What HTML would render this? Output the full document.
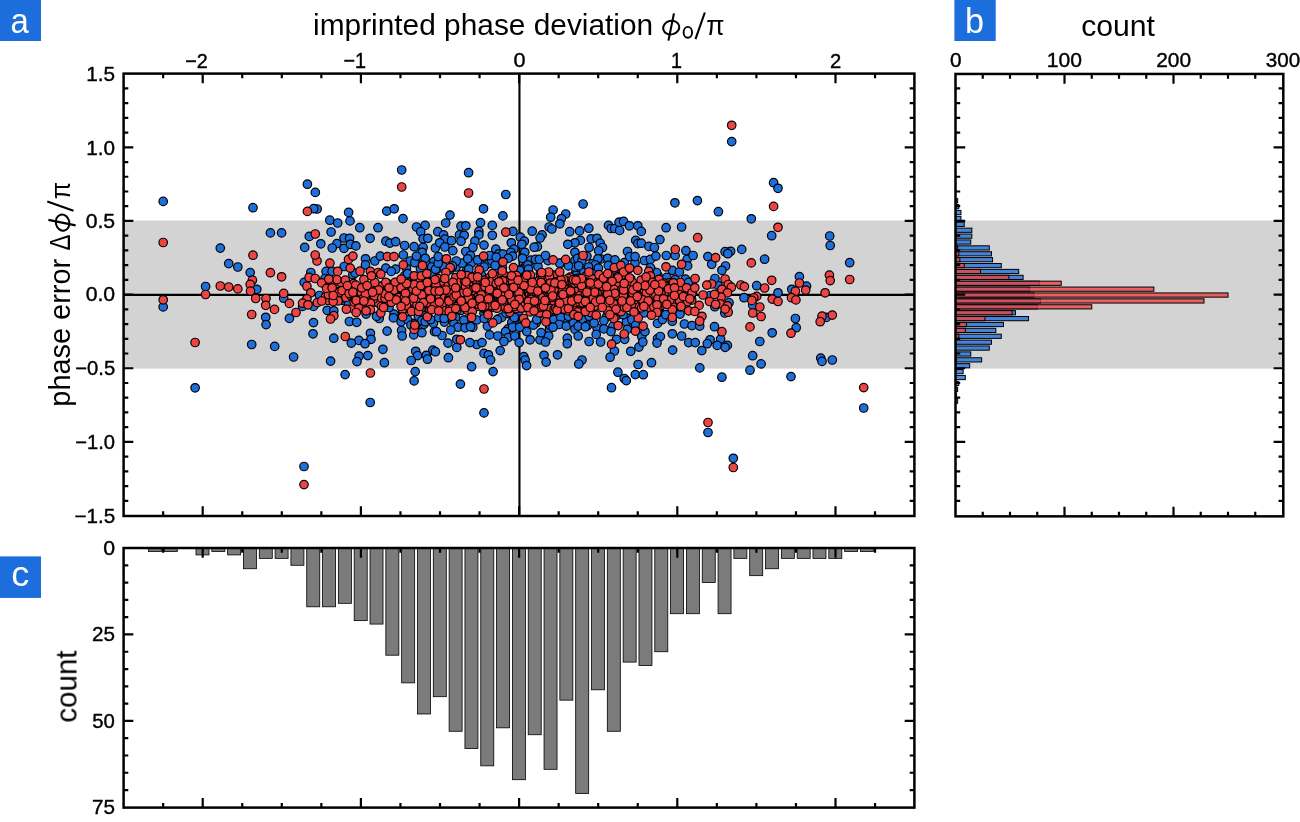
<!DOCTYPE html>
<html><head><meta charset="utf-8"><title>figure</title>
<style>
html,body{margin:0;padding:0;background:#fff;}
svg{display:block;font-family:"Liberation Sans",sans-serif;}
</style></head>
<body>
<svg width="1300" height="822" viewBox="0 0 1300 822">
<rect x="0" y="0" width="1300" height="822" fill="#fff"/>
<rect x="123.6" y="220.5" width="790.80" height="148.10" fill="#d3d3d3"/>
<rect x="955.5" y="220.5" width="327.80" height="148.10" fill="#d3d3d3"/>
<line x1="123.6" x2="914.4" y1="294.85" y2="294.85" stroke="#000" stroke-width="2.1"/>
<line x1="519.45" x2="519.45" y1="73.6" y2="516.0" stroke="#000" stroke-width="2.1"/>
<g fill="#1f6fdb" stroke="#000" stroke-width="1.2">
<circle cx="406.4" cy="268.1" r="4.25"/><circle cx="406.3" cy="280.5" r="4.25"/><circle cx="401.4" cy="315.8" r="4.25"/><circle cx="404.8" cy="275.6" r="4.25"/><circle cx="406.6" cy="292.1" r="4.25"/><circle cx="413.1" cy="323.4" r="4.25"/><circle cx="401.8" cy="318.5" r="4.25"/><circle cx="415.8" cy="280.7" r="4.25"/><circle cx="410.3" cy="261.0" r="4.25"/><circle cx="401.5" cy="299.7" r="4.25"/><circle cx="403.0" cy="304.0" r="4.25"/><circle cx="415.1" cy="327.2" r="4.25"/><circle cx="403.3" cy="301.2" r="4.25"/><circle cx="425.0" cy="288.2" r="4.25"/><circle cx="424.0" cy="324.3" r="4.25"/><circle cx="423.8" cy="291.1" r="4.25"/><circle cx="418.4" cy="316.3" r="4.25"/><circle cx="428.7" cy="281.3" r="4.25"/><circle cx="419.6" cy="285.5" r="4.25"/><circle cx="422.0" cy="263.7" r="4.25"/><circle cx="418.0" cy="305.9" r="4.25"/><circle cx="422.6" cy="311.9" r="4.25"/><circle cx="424.3" cy="266.3" r="4.25"/><circle cx="428.1" cy="296.2" r="4.25"/><circle cx="420.5" cy="268.8" r="4.25"/><circle cx="429.8" cy="301.6" r="4.25"/><circle cx="426.1" cy="262.0" r="4.25"/><circle cx="428.3" cy="291.5" r="4.25"/><circle cx="437.6" cy="268.9" r="4.25"/><circle cx="433.4" cy="323.3" r="4.25"/><circle cx="434.1" cy="272.8" r="4.25"/><circle cx="443.2" cy="266.6" r="4.25"/><circle cx="443.7" cy="308.7" r="4.25"/><circle cx="446.5" cy="318.6" r="4.25"/><circle cx="442.2" cy="308.8" r="4.25"/><circle cx="442.4" cy="291.8" r="4.25"/><circle cx="437.7" cy="291.6" r="4.25"/><circle cx="436.0" cy="269.4" r="4.25"/><circle cx="444.4" cy="322.1" r="4.25"/><circle cx="450.2" cy="298.4" r="4.25"/><circle cx="461.2" cy="310.3" r="4.25"/><circle cx="454.5" cy="305.6" r="4.25"/><circle cx="455.6" cy="317.4" r="4.25"/><circle cx="461.5" cy="298.9" r="4.25"/><circle cx="460.7" cy="297.5" r="4.25"/><circle cx="457.3" cy="295.1" r="4.25"/><circle cx="450.0" cy="269.7" r="4.25"/><circle cx="449.2" cy="292.1" r="4.25"/><circle cx="450.2" cy="311.5" r="4.25"/><circle cx="454.0" cy="323.7" r="4.25"/><circle cx="457.5" cy="307.5" r="4.25"/><circle cx="452.2" cy="309.8" r="4.25"/><circle cx="451.6" cy="296.3" r="4.25"/><circle cx="456.2" cy="267.0" r="4.25"/><circle cx="459.0" cy="288.6" r="4.25"/><circle cx="460.4" cy="282.7" r="4.25"/><circle cx="448.4" cy="294.2" r="4.25"/><circle cx="451.9" cy="267.6" r="4.25"/><circle cx="467.8" cy="266.7" r="4.25"/><circle cx="470.9" cy="293.8" r="4.25"/><circle cx="467.9" cy="274.9" r="4.25"/><circle cx="466.7" cy="270.6" r="4.25"/><circle cx="466.6" cy="273.5" r="4.25"/><circle cx="471.3" cy="263.2" r="4.25"/><circle cx="478.8" cy="300.3" r="4.25"/><circle cx="476.7" cy="320.0" r="4.25"/><circle cx="475.1" cy="294.6" r="4.25"/><circle cx="465.7" cy="304.3" r="4.25"/><circle cx="472.8" cy="327.4" r="4.25"/><circle cx="478.9" cy="287.9" r="4.25"/><circle cx="472.1" cy="303.3" r="4.25"/><circle cx="477.7" cy="275.9" r="4.25"/><circle cx="472.3" cy="276.8" r="4.25"/><circle cx="478.9" cy="294.4" r="4.25"/><circle cx="465.7" cy="290.0" r="4.25"/><circle cx="468.2" cy="326.1" r="4.25"/><circle cx="465.5" cy="320.2" r="4.25"/><circle cx="471.0" cy="288.4" r="4.25"/><circle cx="468.8" cy="294.9" r="4.25"/><circle cx="487.7" cy="282.3" r="4.25"/><circle cx="479.6" cy="305.4" r="4.25"/><circle cx="488.6" cy="263.6" r="4.25"/><circle cx="488.8" cy="307.9" r="4.25"/><circle cx="484.4" cy="292.0" r="4.25"/><circle cx="484.1" cy="301.2" r="4.25"/><circle cx="480.6" cy="284.3" r="4.25"/><circle cx="484.0" cy="313.2" r="4.25"/><circle cx="481.5" cy="275.3" r="4.25"/><circle cx="490.0" cy="291.1" r="4.25"/><circle cx="491.8" cy="260.6" r="4.25"/><circle cx="483.5" cy="308.3" r="4.25"/><circle cx="482.1" cy="291.4" r="4.25"/><circle cx="489.6" cy="299.2" r="4.25"/><circle cx="481.3" cy="264.9" r="4.25"/><circle cx="498.0" cy="319.2" r="4.25"/><circle cx="509.7" cy="296.6" r="4.25"/><circle cx="496.8" cy="269.7" r="4.25"/><circle cx="509.7" cy="294.2" r="4.25"/><circle cx="509.1" cy="304.6" r="4.25"/><circle cx="501.3" cy="300.1" r="4.25"/><circle cx="499.0" cy="300.0" r="4.25"/><circle cx="508.1" cy="313.7" r="4.25"/><circle cx="508.0" cy="328.9" r="4.25"/><circle cx="496.1" cy="294.1" r="4.25"/><circle cx="511.0" cy="313.6" r="4.25"/><circle cx="505.4" cy="291.3" r="4.25"/><circle cx="500.5" cy="284.3" r="4.25"/><circle cx="502.4" cy="267.7" r="4.25"/><circle cx="518.9" cy="279.7" r="4.25"/><circle cx="512.4" cy="285.0" r="4.25"/><circle cx="516.4" cy="287.7" r="4.25"/><circle cx="520.1" cy="305.1" r="4.25"/><circle cx="516.9" cy="320.6" r="4.25"/><circle cx="517.0" cy="315.7" r="4.25"/><circle cx="521.1" cy="277.3" r="4.25"/><circle cx="514.4" cy="274.0" r="4.25"/><circle cx="514.5" cy="321.9" r="4.25"/><circle cx="516.2" cy="296.7" r="4.25"/><circle cx="514.0" cy="318.2" r="4.25"/><circle cx="525.2" cy="266.5" r="4.25"/><circle cx="511.9" cy="301.3" r="4.25"/><circle cx="511.3" cy="276.3" r="4.25"/><circle cx="520.6" cy="305.0" r="4.25"/><circle cx="522.5" cy="305.3" r="4.25"/><circle cx="518.7" cy="296.2" r="4.25"/><circle cx="525.9" cy="298.6" r="4.25"/><circle cx="524.9" cy="328.1" r="4.25"/><circle cx="517.0" cy="283.8" r="4.25"/><circle cx="522.6" cy="269.1" r="4.25"/><circle cx="517.1" cy="281.6" r="4.25"/><circle cx="519.0" cy="310.9" r="4.25"/><circle cx="511.8" cy="322.5" r="4.25"/><circle cx="534.0" cy="287.9" r="4.25"/><circle cx="539.7" cy="313.5" r="4.25"/><circle cx="540.3" cy="273.4" r="4.25"/><circle cx="531.7" cy="282.5" r="4.25"/><circle cx="528.5" cy="287.7" r="4.25"/><circle cx="528.5" cy="306.1" r="4.25"/><circle cx="542.0" cy="283.1" r="4.25"/><circle cx="528.5" cy="306.6" r="4.25"/><circle cx="532.3" cy="296.7" r="4.25"/><circle cx="529.6" cy="284.6" r="4.25"/><circle cx="537.9" cy="266.5" r="4.25"/><circle cx="536.2" cy="322.8" r="4.25"/><circle cx="541.6" cy="289.3" r="4.25"/><circle cx="530.9" cy="260.2" r="4.25"/><circle cx="549.5" cy="284.5" r="4.25"/><circle cx="548.6" cy="304.1" r="4.25"/><circle cx="557.8" cy="277.8" r="4.25"/><circle cx="553.4" cy="291.9" r="4.25"/><circle cx="556.9" cy="309.1" r="4.25"/><circle cx="549.5" cy="328.9" r="4.25"/><circle cx="545.4" cy="285.4" r="4.25"/><circle cx="550.0" cy="325.2" r="4.25"/><circle cx="554.8" cy="310.8" r="4.25"/><circle cx="548.6" cy="276.2" r="4.25"/><circle cx="557.0" cy="310.0" r="4.25"/><circle cx="548.0" cy="260.6" r="4.25"/><circle cx="549.5" cy="317.7" r="4.25"/><circle cx="551.0" cy="320.0" r="4.25"/><circle cx="554.1" cy="293.2" r="4.25"/><circle cx="568.5" cy="308.1" r="4.25"/><circle cx="573.0" cy="308.6" r="4.25"/><circle cx="565.9" cy="318.5" r="4.25"/><circle cx="564.9" cy="305.0" r="4.25"/><circle cx="560.3" cy="263.3" r="4.25"/><circle cx="572.5" cy="293.4" r="4.25"/><circle cx="570.6" cy="291.5" r="4.25"/><circle cx="562.6" cy="314.0" r="4.25"/><circle cx="572.2" cy="279.8" r="4.25"/><circle cx="573.0" cy="305.4" r="4.25"/><circle cx="587.1" cy="325.7" r="4.25"/><circle cx="575.3" cy="273.8" r="4.25"/><circle cx="582.1" cy="296.8" r="4.25"/><circle cx="580.2" cy="303.0" r="4.25"/><circle cx="580.2" cy="296.5" r="4.25"/><circle cx="589.4" cy="280.4" r="4.25"/><circle cx="576.8" cy="304.1" r="4.25"/><circle cx="584.9" cy="274.3" r="4.25"/><circle cx="578.5" cy="299.4" r="4.25"/><circle cx="586.2" cy="310.5" r="4.25"/><circle cx="580.9" cy="269.6" r="4.25"/><circle cx="585.0" cy="272.7" r="4.25"/><circle cx="589.4" cy="318.5" r="4.25"/><circle cx="579.8" cy="288.8" r="4.25"/><circle cx="578.1" cy="302.6" r="4.25"/><circle cx="583.7" cy="272.5" r="4.25"/><circle cx="582.9" cy="319.8" r="4.25"/><circle cx="587.6" cy="325.2" r="4.25"/><circle cx="584.3" cy="307.7" r="4.25"/><circle cx="590.0" cy="293.9" r="4.25"/><circle cx="575.6" cy="297.0" r="4.25"/><circle cx="576.0" cy="275.3" r="4.25"/><circle cx="592.0" cy="298.5" r="4.25"/><circle cx="593.0" cy="285.0" r="4.25"/><circle cx="592.6" cy="263.7" r="4.25"/><circle cx="595.5" cy="277.7" r="4.25"/><circle cx="595.9" cy="268.6" r="4.25"/><circle cx="600.7" cy="259.0" r="4.25"/><circle cx="592.5" cy="311.4" r="4.25"/><circle cx="604.1" cy="279.3" r="4.25"/><circle cx="597.1" cy="328.2" r="4.25"/><circle cx="592.6" cy="288.1" r="4.25"/><circle cx="594.7" cy="297.0" r="4.25"/><circle cx="595.6" cy="273.0" r="4.25"/><circle cx="615.9" cy="273.5" r="4.25"/><circle cx="613.8" cy="270.5" r="4.25"/><circle cx="611.7" cy="312.9" r="4.25"/><circle cx="611.7" cy="289.1" r="4.25"/><circle cx="611.9" cy="305.3" r="4.25"/><circle cx="618.8" cy="294.6" r="4.25"/><circle cx="613.7" cy="304.7" r="4.25"/><circle cx="610.5" cy="264.0" r="4.25"/><circle cx="609.2" cy="260.9" r="4.25"/><circle cx="608.1" cy="308.7" r="4.25"/><circle cx="621.8" cy="267.2" r="4.25"/><circle cx="617.8" cy="315.0" r="4.25"/><circle cx="615.0" cy="287.6" r="4.25"/><circle cx="621.2" cy="283.5" r="4.25"/><circle cx="612.9" cy="326.4" r="4.25"/><circle cx="606.7" cy="316.8" r="4.25"/><circle cx="621.5" cy="298.4" r="4.25"/><circle cx="607.7" cy="310.8" r="4.25"/><circle cx="624.2" cy="288.4" r="4.25"/><circle cx="630.5" cy="282.2" r="4.25"/><circle cx="633.2" cy="285.9" r="4.25"/><circle cx="635.0" cy="263.2" r="4.25"/><circle cx="628.3" cy="327.1" r="4.25"/><circle cx="630.7" cy="279.0" r="4.25"/><circle cx="628.6" cy="269.1" r="4.25"/><circle cx="623.4" cy="281.3" r="4.25"/><circle cx="627.2" cy="318.1" r="4.25"/><circle cx="637.7" cy="313.9" r="4.25"/><circle cx="637.6" cy="294.7" r="4.25"/><circle cx="649.2" cy="281.6" r="4.25"/><circle cx="647.1" cy="300.5" r="4.25"/><circle cx="649.3" cy="284.0" r="4.25"/><circle cx="648.4" cy="279.5" r="4.25"/><circle cx="651.5" cy="280.0" r="4.25"/><circle cx="651.2" cy="269.4" r="4.25"/><circle cx="639.6" cy="288.1" r="4.25"/><circle cx="649.8" cy="308.2" r="4.25"/><circle cx="641.4" cy="285.5" r="4.25"/><circle cx="647.9" cy="260.9" r="4.25"/><circle cx="641.6" cy="307.1" r="4.25"/><circle cx="659.4" cy="301.5" r="4.25"/><circle cx="659.9" cy="312.6" r="4.25"/><circle cx="658.9" cy="308.6" r="4.25"/><circle cx="658.0" cy="275.8" r="4.25"/><circle cx="163.2" cy="201.4" r="4.25"/><circle cx="253.0" cy="207.7" r="4.25"/><circle cx="307.4" cy="184.2" r="4.25"/><circle cx="315.3" cy="192.4" r="4.25"/><circle cx="317.2" cy="209.0" r="4.25"/><circle cx="313.7" cy="208.7" r="4.25"/><circle cx="270.4" cy="232.9" r="4.25"/><circle cx="281.6" cy="232.9" r="4.25"/><circle cx="309.3" cy="236.4" r="4.25"/><circle cx="320.8" cy="243.8" r="4.25"/><circle cx="304.7" cy="247.4" r="4.25"/><circle cx="220.3" cy="248.1" r="4.25"/><circle cx="228.7" cy="263.6" r="4.25"/><circle cx="237.8" cy="267.0" r="4.25"/><circle cx="250.2" cy="272.6" r="4.25"/><circle cx="205.6" cy="286.5" r="4.25"/><circle cx="256.8" cy="289.3" r="4.25"/><circle cx="163.2" cy="306.9" r="4.25"/><circle cx="265.7" cy="317.3" r="4.25"/><circle cx="266.1" cy="324.6" r="4.25"/><circle cx="283.7" cy="298.2" r="4.25"/><circle cx="289.4" cy="318.4" r="4.25"/><circle cx="251.7" cy="344.5" r="4.25"/><circle cx="274.7" cy="346.4" r="4.25"/><circle cx="293.6" cy="357.0" r="4.25"/><circle cx="195.1" cy="387.8" r="4.25"/><circle cx="304.0" cy="466.5" r="4.25"/><circle cx="370.2" cy="402.5" r="4.25"/><circle cx="484.0" cy="412.9" r="4.25"/><circle cx="401.7" cy="170.0" r="4.25"/><circle cx="468.6" cy="172.7" r="4.25"/><circle cx="505.8" cy="194.5" r="4.25"/><circle cx="348.6" cy="212.4" r="4.25"/><circle cx="350.0" cy="220.9" r="4.25"/><circle cx="329.8" cy="220.2" r="4.25"/><circle cx="337.7" cy="223.0" r="4.25"/><circle cx="386.7" cy="211.1" r="4.25"/><circle cx="394.2" cy="208.8" r="4.25"/><circle cx="403.0" cy="218.6" r="4.25"/><circle cx="450.0" cy="215.1" r="4.25"/><circle cx="445.7" cy="223.0" r="4.25"/><circle cx="483.5" cy="208.8" r="4.25"/><circle cx="480.5" cy="222.7" r="4.25"/><circle cx="502.9" cy="215.9" r="4.25"/><circle cx="492.3" cy="225.4" r="4.25"/><circle cx="492.3" cy="235.3" r="4.25"/><circle cx="512.9" cy="231.4" r="4.25"/><circle cx="359.8" cy="227.7" r="4.25"/><circle cx="378.0" cy="227.7" r="4.25"/><circle cx="370.1" cy="238.3" r="4.25"/><circle cx="331.1" cy="232.0" r="4.25"/><circle cx="416.5" cy="227.0" r="4.25"/><circle cx="425.1" cy="225.4" r="4.25"/><circle cx="420.7" cy="231.7" r="4.25"/><circle cx="437.8" cy="231.7" r="4.25"/><circle cx="443.6" cy="234.9" r="4.25"/><circle cx="444.9" cy="239.1" r="4.25"/><circle cx="451.5" cy="240.7" r="4.25"/><circle cx="461.0" cy="226.2" r="4.25"/><circle cx="465.8" cy="225.8" r="4.25"/><circle cx="459.5" cy="234.9" r="4.25"/><circle cx="464.2" cy="235.3" r="4.25"/><circle cx="461.0" cy="241.2" r="4.25"/><circle cx="478.9" cy="231.4" r="4.25"/><circle cx="478.9" cy="234.9" r="4.25"/><circle cx="474.9" cy="241.2" r="4.25"/><circle cx="484.0" cy="245.1" r="4.25"/><circle cx="472.9" cy="247.5" r="4.25"/><circle cx="344.0" cy="238.0" r="4.25"/><circle cx="349.6" cy="238.3" r="4.25"/><circle cx="336.9" cy="243.6" r="4.25"/><circle cx="332.2" cy="248.0" r="4.25"/><circle cx="344.0" cy="248.3" r="4.25"/><circle cx="350.4" cy="244.3" r="4.25"/><circle cx="355.9" cy="245.9" r="4.25"/><circle cx="385.9" cy="241.2" r="4.25"/><circle cx="389.9" cy="243.1" r="4.25"/><circle cx="395.7" cy="241.7" r="4.25"/><circle cx="404.6" cy="245.5" r="4.25"/><circle cx="414.1" cy="246.7" r="4.25"/><circle cx="423.1" cy="238.8" r="4.25"/><circle cx="427.8" cy="238.3" r="4.25"/><circle cx="423.1" cy="247.5" r="4.25"/><circle cx="422.0" cy="252.3" r="4.25"/><circle cx="435.4" cy="248.0" r="4.25"/><circle cx="439.7" cy="242.8" r="4.25"/><circle cx="444.9" cy="247.0" r="4.25"/><circle cx="452.8" cy="250.7" r="4.25"/><circle cx="465.8" cy="251.5" r="4.25"/><circle cx="470.5" cy="255.4" r="4.25"/><circle cx="495.8" cy="249.1" r="4.25"/><circle cx="499.0" cy="253.8" r="4.25"/><circle cx="502.9" cy="254.2" r="4.25"/><circle cx="511.3" cy="242.8" r="4.25"/><circle cx="514.0" cy="249.1" r="4.25"/><circle cx="510.8" cy="252.3" r="4.25"/><circle cx="583.1" cy="204.0" r="4.25"/><circle cx="553.1" cy="210.0" r="4.25"/><circle cx="550.7" cy="217.2" r="4.25"/><circle cx="565.7" cy="214.0" r="4.25"/><circle cx="561.4" cy="218.6" r="4.25"/><circle cx="559.8" cy="223.8" r="4.25"/><circle cx="674.9" cy="202.8" r="4.25"/><circle cx="697.4" cy="200.6" r="4.25"/><circle cx="532.2" cy="231.2" r="4.25"/><circle cx="549.1" cy="227.0" r="4.25"/><circle cx="551.9" cy="229.0" r="4.25"/><circle cx="542.1" cy="234.9" r="4.25"/><circle cx="540.1" cy="238.0" r="4.25"/><circle cx="520.3" cy="237.2" r="4.25"/><circle cx="524.3" cy="241.2" r="4.25"/><circle cx="521.9" cy="244.3" r="4.25"/><circle cx="524.8" cy="252.3" r="4.25"/><circle cx="569.7" cy="231.7" r="4.25"/><circle cx="579.6" cy="230.9" r="4.25"/><circle cx="588.8" cy="228.2" r="4.25"/><circle cx="591.2" cy="238.8" r="4.25"/><circle cx="580.4" cy="240.4" r="4.25"/><circle cx="574.9" cy="242.8" r="4.25"/><circle cx="567.8" cy="244.3" r="4.25"/><circle cx="597.0" cy="238.3" r="4.25"/><circle cx="600.2" cy="243.1" r="4.25"/><circle cx="602.5" cy="247.5" r="4.25"/><circle cx="598.6" cy="250.7" r="4.25"/><circle cx="589.1" cy="247.5" r="4.25"/><circle cx="574.9" cy="252.3" r="4.25"/><circle cx="537.4" cy="246.7" r="4.25"/><circle cx="534.2" cy="247.2" r="4.25"/><circle cx="608.5" cy="225.4" r="4.25"/><circle cx="611.2" cy="228.5" r="4.25"/><circle cx="614.7" cy="228.5" r="4.25"/><circle cx="619.6" cy="230.4" r="4.25"/><circle cx="619.1" cy="222.2" r="4.25"/><circle cx="623.6" cy="221.4" r="4.25"/><circle cx="629.4" cy="225.8" r="4.25"/><circle cx="637.8" cy="225.8" r="4.25"/><circle cx="641.3" cy="231.4" r="4.25"/><circle cx="635.7" cy="240.4" r="4.25"/><circle cx="637.8" cy="243.6" r="4.25"/><circle cx="641.3" cy="243.2" r="4.25"/><circle cx="648.9" cy="246.4" r="4.25"/><circle cx="654.4" cy="247.5" r="4.25"/><circle cx="659.9" cy="239.6" r="4.25"/><circle cx="666.1" cy="227.7" r="4.25"/><circle cx="681.6" cy="227.0" r="4.25"/><circle cx="685.9" cy="250.7" r="4.25"/><circle cx="627.5" cy="251.5" r="4.25"/><circle cx="731.7" cy="141.6" r="4.25"/><circle cx="773.6" cy="182.7" r="4.25"/><circle cx="778.0" cy="188.3" r="4.25"/><circle cx="718.4" cy="211.7" r="4.25"/><circle cx="751.3" cy="218.8" r="4.25"/><circle cx="771.7" cy="235.7" r="4.25"/><circle cx="829.7" cy="236.0" r="4.25"/><circle cx="830.2" cy="245.5" r="4.25"/><circle cx="849.7" cy="262.7" r="4.25"/><circle cx="741.7" cy="249.4" r="4.25"/><circle cx="730.6" cy="251.3" r="4.25"/><circle cx="725.1" cy="251.7" r="4.25"/><circle cx="727.8" cy="253.7" r="4.25"/><circle cx="764.6" cy="259.2" r="4.25"/><circle cx="725.5" cy="266.0" r="4.25"/><circle cx="721.9" cy="270.3" r="4.25"/><circle cx="799.4" cy="276.6" r="4.25"/><circle cx="806.5" cy="286.1" r="4.25"/><circle cx="791.8" cy="289.3" r="4.25"/><circle cx="756.7" cy="285.7" r="4.25"/><circle cx="778.0" cy="292.8" r="4.25"/><circle cx="718.0" cy="285.3" r="4.25"/><circle cx="744.0" cy="297.7" r="4.25"/><circle cx="752.7" cy="305.1" r="4.25"/><circle cx="729.0" cy="302.7" r="4.25"/><circle cx="714.8" cy="306.7" r="4.25"/><circle cx="724.8" cy="313.0" r="4.25"/><circle cx="795.4" cy="318.5" r="4.25"/><circle cx="796.2" cy="327.7" r="4.25"/><circle cx="772.2" cy="332.8" r="4.25"/><circle cx="759.8" cy="341.5" r="4.25"/><circle cx="826.3" cy="317.4" r="4.25"/><circle cx="720.6" cy="339.1" r="4.25"/><circle cx="717.2" cy="345.4" r="4.25"/><circle cx="727.4" cy="345.4" r="4.25"/><circle cx="725.1" cy="347.3" r="4.25"/><circle cx="752.7" cy="355.7" r="4.25"/><circle cx="820.7" cy="358.1" r="4.25"/><circle cx="832.3" cy="360.0" r="4.25"/><circle cx="761.1" cy="363.9" r="4.25"/><circle cx="750.0" cy="370.2" r="4.25"/><circle cx="721.9" cy="377.2" r="4.25"/><circle cx="791.0" cy="376.6" r="4.25"/><circle cx="822.0" cy="361.4" r="4.25"/><circle cx="863.7" cy="408.0" r="4.25"/><circle cx="733.3" cy="458.3" r="4.25"/><circle cx="456.8" cy="347.4" r="4.25"/><circle cx="476.8" cy="344.5" r="4.25"/><circle cx="500.2" cy="350.6" r="4.25"/><circle cx="484.0" cy="353.4" r="4.25"/><circle cx="488.4" cy="354.8" r="4.25"/><circle cx="490.6" cy="360.0" r="4.25"/><circle cx="382.9" cy="349.3" r="4.25"/><circle cx="384.4" cy="362.7" r="4.25"/><circle cx="359.1" cy="356.1" r="4.25"/><circle cx="367.8" cy="355.6" r="4.25"/><circle cx="357.0" cy="361.6" r="4.25"/><circle cx="330.6" cy="361.1" r="4.25"/><circle cx="415.7" cy="351.3" r="4.25"/><circle cx="417.6" cy="355.6" r="4.25"/><circle cx="411.2" cy="360.5" r="4.25"/><circle cx="426.3" cy="355.3" r="4.25"/><circle cx="427.5" cy="359.2" r="4.25"/><circle cx="432.9" cy="350.2" r="4.25"/><circle cx="435.4" cy="351.7" r="4.25"/><circle cx="448.4" cy="357.7" r="4.25"/><circle cx="471.6" cy="366.7" r="4.25"/><circle cx="493.1" cy="371.6" r="4.25"/><circle cx="345.1" cy="374.6" r="4.25"/><circle cx="415.2" cy="371.6" r="4.25"/><circle cx="414.1" cy="380.9" r="4.25"/><circle cx="460.4" cy="384.1" r="4.25"/><circle cx="614.4" cy="351.0" r="4.25"/><circle cx="610.1" cy="357.2" r="4.25"/><circle cx="630.7" cy="351.3" r="4.25"/><circle cx="638.9" cy="347.1" r="4.25"/><circle cx="672.6" cy="350.1" r="4.25"/><circle cx="701.8" cy="350.6" r="4.25"/><circle cx="523.8" cy="356.6" r="4.25"/><circle cx="525.1" cy="360.0" r="4.25"/><circle cx="526.6" cy="365.6" r="4.25"/><circle cx="544.0" cy="355.3" r="4.25"/><circle cx="546.1" cy="362.1" r="4.25"/><circle cx="557.5" cy="354.8" r="4.25"/><circle cx="582.0" cy="360.0" r="4.25"/><circle cx="578.8" cy="364.0" r="4.25"/><circle cx="638.1" cy="364.5" r="4.25"/><circle cx="651.5" cy="362.7" r="4.25"/><circle cx="699.8" cy="367.9" r="4.25"/><circle cx="617.9" cy="372.2" r="4.25"/><circle cx="624.2" cy="378.5" r="4.25"/><circle cx="626.3" cy="380.6" r="4.25"/><circle cx="635.3" cy="374.6" r="4.25"/><circle cx="643.3" cy="374.7" r="4.25"/><circle cx="611.5" cy="387.7" r="4.25"/><circle cx="708.0" cy="432.5" r="4.25"/><circle cx="310.8" cy="272.5" r="4.25"/><circle cx="326.1" cy="271.4" r="4.25"/><circle cx="344.2" cy="266.5" r="4.25"/><circle cx="332.1" cy="271.4" r="4.25"/><circle cx="365.5" cy="258.8" r="4.25"/><circle cx="374.8" cy="261.0" r="4.25"/><circle cx="365.5" cy="264.9" r="4.25"/><circle cx="380.3" cy="256.1" r="4.25"/><circle cx="385.8" cy="268.1" r="4.25"/><circle cx="395.6" cy="269.2" r="4.25"/><circle cx="391.2" cy="271.4" r="4.25"/><circle cx="403.3" cy="255.0" r="4.25"/><circle cx="414.8" cy="262.7" r="4.25"/><circle cx="416.4" cy="256.1" r="4.25"/><circle cx="425.2" cy="258.3" r="4.25"/><circle cx="433.9" cy="261.6" r="4.25"/><circle cx="431.7" cy="267.0" r="4.25"/><circle cx="304.2" cy="282.4" r="4.25"/><circle cx="325.0" cy="278.5" r="4.25"/><circle cx="352.9" cy="274.7" r="4.25"/><circle cx="355.1" cy="273.1" r="4.25"/><circle cx="342.0" cy="300.4" r="4.25"/><circle cx="348.5" cy="303.2" r="4.25"/><circle cx="327.2" cy="310.3" r="4.25"/><circle cx="333.8" cy="310.8" r="4.25"/><circle cx="313.5" cy="322.6" r="4.25"/><circle cx="313.0" cy="333.8" r="4.25"/><circle cx="349.4" cy="321.5" r="4.25"/><circle cx="356.7" cy="322.3" r="4.25"/><circle cx="333.8" cy="338.2" r="4.25"/><circle cx="370.4" cy="333.3" r="4.25"/><circle cx="371.0" cy="339.3" r="4.25"/><circle cx="358.9" cy="340.4" r="4.25"/><circle cx="351.3" cy="343.1" r="4.25"/><circle cx="365.0" cy="343.7" r="4.25"/><circle cx="387.1" cy="331.1" r="4.25"/><circle cx="401.6" cy="330.5" r="4.25"/><circle cx="402.2" cy="336.0" r="4.25"/><circle cx="413.7" cy="334.9" r="4.25"/><circle cx="421.9" cy="332.7" r="4.25"/><circle cx="434.5" cy="331.6" r="4.25"/><circle cx="366.1" cy="314.1" r="4.25"/><circle cx="379.2" cy="318.5" r="4.25"/><circle cx="376.5" cy="316.3" r="4.25"/><circle cx="394.0" cy="314.1" r="4.25"/><circle cx="393.4" cy="317.9" r="4.25"/><circle cx="401.1" cy="321.8" r="4.25"/><circle cx="407.6" cy="319.6" r="4.25"/><circle cx="410.9" cy="325.1" r="4.25"/><circle cx="421.9" cy="320.7" r="4.25"/><circle cx="425.2" cy="321.8" r="4.25"/><circle cx="430.6" cy="319.6" r="4.25"/><circle cx="389.0" cy="307.5" r="4.25"/><circle cx="412.0" cy="305.4" r="4.25"/><circle cx="405.5" cy="308.6" r="4.25"/><circle cx="426.3" cy="307.5" r="4.25"/><circle cx="302.6" cy="306.4" r="4.25"/><circle cx="313.5" cy="306.4" r="4.25"/><circle cx="319.5" cy="295.5" r="4.25"/><circle cx="372.6" cy="298.8" r="4.25"/><circle cx="379.2" cy="299.9" r="4.25"/><circle cx="431.7" cy="273.6" r="4.25"/><circle cx="435.6" cy="269.2" r="4.25"/><circle cx="407.6" cy="273.6" r="4.25"/><circle cx="438.2" cy="263.2" r="4.25"/><circle cx="462.3" cy="263.2" r="4.25"/><circle cx="456.2" cy="261.0" r="4.25"/><circle cx="477.6" cy="259.9" r="4.25"/><circle cx="467.7" cy="258.8" r="4.25"/><circle cx="495.1" cy="265.4" r="4.25"/><circle cx="468.8" cy="269.2" r="4.25"/><circle cx="484.2" cy="267.0" r="4.25"/><circle cx="438.2" cy="256.6" r="4.25"/><circle cx="489.6" cy="255.5" r="4.25"/><circle cx="512.6" cy="256.1" r="4.25"/><circle cx="522.5" cy="258.3" r="4.25"/><circle cx="527.9" cy="264.9" r="4.25"/><circle cx="528.5" cy="269.2" r="4.25"/><circle cx="535.6" cy="259.4" r="4.25"/><circle cx="539.4" cy="259.4" r="4.25"/><circle cx="545.5" cy="255.5" r="4.25"/><circle cx="559.7" cy="263.2" r="4.25"/><circle cx="575.0" cy="260.5" r="4.25"/><circle cx="575.0" cy="267.0" r="4.25"/><circle cx="519.7" cy="270.3" r="4.25"/><circle cx="508.2" cy="258.3" r="4.25"/><circle cx="496.2" cy="257.2" r="4.25"/><circle cx="452.4" cy="265.9" r="4.25"/><circle cx="568.4" cy="265.9" r="4.25"/><circle cx="438.7" cy="317.4" r="4.25"/><circle cx="444.2" cy="318.5" r="4.25"/><circle cx="463.9" cy="320.1" r="4.25"/><circle cx="457.9" cy="327.2" r="4.25"/><circle cx="465.0" cy="327.8" r="4.25"/><circle cx="470.5" cy="326.7" r="4.25"/><circle cx="450.8" cy="330.0" r="4.25"/><circle cx="442.0" cy="335.5" r="4.25"/><circle cx="436.5" cy="331.6" r="4.25"/><circle cx="448.0" cy="343.1" r="4.25"/><circle cx="456.8" cy="339.3" r="4.25"/><circle cx="469.9" cy="342.6" r="4.25"/><circle cx="482.0" cy="342.6" r="4.25"/><circle cx="487.4" cy="326.1" r="4.25"/><circle cx="484.2" cy="318.5" r="4.25"/><circle cx="489.6" cy="334.9" r="4.25"/><circle cx="497.8" cy="336.0" r="4.25"/><circle cx="501.7" cy="317.4" r="4.25"/><circle cx="497.3" cy="319.6" r="4.25"/><circle cx="506.1" cy="313.0" r="4.25"/><circle cx="514.3" cy="317.4" r="4.25"/><circle cx="512.6" cy="327.2" r="4.25"/><circle cx="519.7" cy="327.2" r="4.25"/><circle cx="505.5" cy="331.6" r="4.25"/><circle cx="508.2" cy="337.6" r="4.25"/><circle cx="514.8" cy="336.0" r="4.25"/><circle cx="526.8" cy="331.6" r="4.25"/><circle cx="533.4" cy="325.1" r="4.25"/><circle cx="536.7" cy="319.6" r="4.25"/><circle cx="530.1" cy="339.8" r="4.25"/><circle cx="540.0" cy="339.8" r="4.25"/><circle cx="541.1" cy="332.7" r="4.25"/><circle cx="548.7" cy="336.0" r="4.25"/><circle cx="519.2" cy="342.6" r="4.25"/><circle cx="553.7" cy="319.6" r="4.25"/><circle cx="560.8" cy="317.4" r="4.25"/><circle cx="559.1" cy="324.5" r="4.25"/><circle cx="553.1" cy="327.2" r="4.25"/><circle cx="566.3" cy="326.1" r="4.25"/><circle cx="573.4" cy="322.9" r="4.25"/><circle cx="567.3" cy="338.2" r="4.25"/><circle cx="567.3" cy="343.7" r="4.25"/><circle cx="575.0" cy="329.4" r="4.25"/><circle cx="568.4" cy="316.3" r="4.25"/><circle cx="545.5" cy="342.0" r="4.25"/><circle cx="503.9" cy="341.5" r="4.25"/><circle cx="577.6" cy="258.3" r="4.25"/><circle cx="582.0" cy="260.5" r="4.25"/><circle cx="586.9" cy="256.1" r="4.25"/><circle cx="597.9" cy="258.8" r="4.25"/><circle cx="595.2" cy="264.9" r="4.25"/><circle cx="588.6" cy="267.0" r="4.25"/><circle cx="598.4" cy="268.1" r="4.25"/><circle cx="607.7" cy="258.3" r="4.25"/><circle cx="614.9" cy="259.9" r="4.25"/><circle cx="608.3" cy="265.4" r="4.25"/><circle cx="578.7" cy="265.9" r="4.25"/><circle cx="624.2" cy="262.7" r="4.25"/><circle cx="629.6" cy="256.6" r="4.25"/><circle cx="635.1" cy="256.6" r="4.25"/><circle cx="644.4" cy="260.5" r="4.25"/><circle cx="650.4" cy="259.4" r="4.25"/><circle cx="655.9" cy="256.1" r="4.25"/><circle cx="666.3" cy="255.5" r="4.25"/><circle cx="675.1" cy="255.5" r="4.25"/><circle cx="656.5" cy="272.5" r="4.25"/><circle cx="650.4" cy="267.6" r="4.25"/><circle cx="672.3" cy="270.3" r="4.25"/><circle cx="679.4" cy="272.0" r="4.25"/><circle cx="666.8" cy="277.4" r="4.25"/><circle cx="675.1" cy="279.6" r="4.25"/><circle cx="687.1" cy="259.4" r="4.25"/><circle cx="687.6" cy="265.9" r="4.25"/><circle cx="693.1" cy="255.5" r="4.25"/><circle cx="685.5" cy="279.1" r="4.25"/><circle cx="688.7" cy="282.4" r="4.25"/><circle cx="707.9" cy="256.6" r="4.25"/><circle cx="711.7" cy="264.3" r="4.25"/><circle cx="715.0" cy="278.5" r="4.25"/><circle cx="710.1" cy="295.5" r="4.25"/><circle cx="589.1" cy="316.3" r="4.25"/><circle cx="578.2" cy="326.1" r="4.25"/><circle cx="585.3" cy="326.7" r="4.25"/><circle cx="594.1" cy="322.9" r="4.25"/><circle cx="603.9" cy="320.7" r="4.25"/><circle cx="603.9" cy="328.9" r="4.25"/><circle cx="596.2" cy="334.4" r="4.25"/><circle cx="578.2" cy="336.0" r="4.25"/><circle cx="589.1" cy="341.5" r="4.25"/><circle cx="600.6" cy="342.0" r="4.25"/><circle cx="611.0" cy="331.6" r="4.25"/><circle cx="616.5" cy="339.3" r="4.25"/><circle cx="624.7" cy="339.3" r="4.25"/><circle cx="626.4" cy="321.8" r="4.25"/><circle cx="623.1" cy="314.7" r="4.25"/><circle cx="631.8" cy="319.6" r="4.25"/><circle cx="627.4" cy="329.4" r="4.25"/><circle cx="635.7" cy="325.1" r="4.25"/><circle cx="641.7" cy="336.5" r="4.25"/><circle cx="645.0" cy="331.6" r="4.25"/><circle cx="642.8" cy="342.0" r="4.25"/><circle cx="648.2" cy="309.7" r="4.25"/><circle cx="643.9" cy="313.0" r="4.25"/><circle cx="657.5" cy="323.4" r="4.25"/><circle cx="662.5" cy="319.6" r="4.25"/><circle cx="665.8" cy="314.7" r="4.25"/><circle cx="680.0" cy="314.1" r="4.25"/><circle cx="672.3" cy="321.2" r="4.25"/><circle cx="657.5" cy="338.7" r="4.25"/><circle cx="660.3" cy="336.5" r="4.25"/><circle cx="657.0" cy="343.1" r="4.25"/><circle cx="672.3" cy="333.8" r="4.25"/><circle cx="681.6" cy="336.0" r="4.25"/><circle cx="684.4" cy="324.0" r="4.25"/><circle cx="692.0" cy="325.6" r="4.25"/><circle cx="699.7" cy="326.1" r="4.25"/><circle cx="688.7" cy="342.6" r="4.25"/><circle cx="695.3" cy="342.6" r="4.25"/><circle cx="710.1" cy="339.8" r="4.25"/><circle cx="714.5" cy="326.7" r="4.25"/><circle cx="707.3" cy="343.7" r="4.25"/>
</g>
<g fill="#ef4444" stroke="#000" stroke-width="1.2">
<circle cx="328.9" cy="287.0" r="4.25"/><circle cx="336.7" cy="295.2" r="4.25"/><circle cx="330.0" cy="285.7" r="4.25"/><circle cx="325.5" cy="296.8" r="4.25"/><circle cx="328.6" cy="298.1" r="4.25"/><circle cx="329.3" cy="294.5" r="4.25"/><circle cx="332.8" cy="295.6" r="4.25"/><circle cx="333.8" cy="282.5" r="4.25"/><circle cx="333.6" cy="294.2" r="4.25"/><circle cx="328.4" cy="300.5" r="4.25"/><circle cx="328.5" cy="294.7" r="4.25"/><circle cx="350.5" cy="285.0" r="4.25"/><circle cx="339.6" cy="299.5" r="4.25"/><circle cx="352.5" cy="286.0" r="4.25"/><circle cx="352.8" cy="308.4" r="4.25"/><circle cx="342.5" cy="289.8" r="4.25"/><circle cx="345.9" cy="297.4" r="4.25"/><circle cx="338.8" cy="291.4" r="4.25"/><circle cx="339.2" cy="292.2" r="4.25"/><circle cx="338.1" cy="300.9" r="4.25"/><circle cx="350.8" cy="295.5" r="4.25"/><circle cx="341.4" cy="282.7" r="4.25"/><circle cx="365.0" cy="288.7" r="4.25"/><circle cx="353.3" cy="291.6" r="4.25"/><circle cx="356.0" cy="292.0" r="4.25"/><circle cx="359.8" cy="292.6" r="4.25"/><circle cx="363.1" cy="295.5" r="4.25"/><circle cx="354.1" cy="301.9" r="4.25"/><circle cx="366.3" cy="305.4" r="4.25"/><circle cx="357.6" cy="296.6" r="4.25"/><circle cx="357.9" cy="297.5" r="4.25"/><circle cx="360.9" cy="288.7" r="4.25"/><circle cx="354.4" cy="297.3" r="4.25"/><circle cx="356.7" cy="300.3" r="4.25"/><circle cx="364.3" cy="307.0" r="4.25"/><circle cx="355.4" cy="299.6" r="4.25"/><circle cx="367.1" cy="299.1" r="4.25"/><circle cx="361.3" cy="292.6" r="4.25"/><circle cx="362.2" cy="305.3" r="4.25"/><circle cx="353.5" cy="283.6" r="4.25"/><circle cx="361.8" cy="299.7" r="4.25"/><circle cx="368.9" cy="304.9" r="4.25"/><circle cx="373.0" cy="302.2" r="4.25"/><circle cx="376.6" cy="294.7" r="4.25"/><circle cx="378.6" cy="303.0" r="4.25"/><circle cx="380.6" cy="288.3" r="4.25"/><circle cx="373.1" cy="299.4" r="4.25"/><circle cx="377.0" cy="294.8" r="4.25"/><circle cx="383.8" cy="288.2" r="4.25"/><circle cx="379.9" cy="286.4" r="4.25"/><circle cx="368.9" cy="294.9" r="4.25"/><circle cx="374.3" cy="286.7" r="4.25"/><circle cx="373.4" cy="295.2" r="4.25"/><circle cx="374.5" cy="295.9" r="4.25"/><circle cx="382.0" cy="286.1" r="4.25"/><circle cx="376.9" cy="289.5" r="4.25"/><circle cx="381.7" cy="298.1" r="4.25"/><circle cx="394.8" cy="291.4" r="4.25"/><circle cx="392.1" cy="289.9" r="4.25"/><circle cx="388.7" cy="301.7" r="4.25"/><circle cx="387.3" cy="284.5" r="4.25"/><circle cx="387.7" cy="283.7" r="4.25"/><circle cx="388.7" cy="292.3" r="4.25"/><circle cx="391.2" cy="295.3" r="4.25"/><circle cx="398.3" cy="290.1" r="4.25"/><circle cx="385.1" cy="298.2" r="4.25"/><circle cx="384.6" cy="292.1" r="4.25"/><circle cx="400.0" cy="291.0" r="4.25"/><circle cx="399.5" cy="299.6" r="4.25"/><circle cx="394.8" cy="290.9" r="4.25"/><circle cx="395.7" cy="285.3" r="4.25"/><circle cx="390.8" cy="288.1" r="4.25"/><circle cx="388.3" cy="286.0" r="4.25"/><circle cx="385.0" cy="293.6" r="4.25"/><circle cx="391.3" cy="302.3" r="4.25"/><circle cx="392.6" cy="285.9" r="4.25"/><circle cx="388.3" cy="287.2" r="4.25"/><circle cx="392.5" cy="290.3" r="4.25"/><circle cx="399.6" cy="283.4" r="4.25"/><circle cx="398.6" cy="297.6" r="4.25"/><circle cx="406.4" cy="295.6" r="4.25"/><circle cx="406.1" cy="304.5" r="4.25"/><circle cx="406.9" cy="304.8" r="4.25"/><circle cx="406.6" cy="289.1" r="4.25"/><circle cx="413.1" cy="298.6" r="4.25"/><circle cx="405.5" cy="292.9" r="4.25"/><circle cx="412.4" cy="291.3" r="4.25"/><circle cx="401.8" cy="282.8" r="4.25"/><circle cx="407.0" cy="299.5" r="4.25"/><circle cx="402.4" cy="307.6" r="4.25"/><circle cx="403.6" cy="290.2" r="4.25"/><circle cx="405.6" cy="291.7" r="4.25"/><circle cx="414.9" cy="278.1" r="4.25"/><circle cx="415.8" cy="298.0" r="4.25"/><circle cx="404.6" cy="297.9" r="4.25"/><circle cx="410.3" cy="289.5" r="4.25"/><circle cx="409.9" cy="302.2" r="4.25"/><circle cx="411.2" cy="289.8" r="4.25"/><circle cx="401.5" cy="283.4" r="4.25"/><circle cx="403.0" cy="301.0" r="4.25"/><circle cx="405.4" cy="295.4" r="4.25"/><circle cx="406.2" cy="287.4" r="4.25"/><circle cx="407.2" cy="306.9" r="4.25"/><circle cx="410.3" cy="294.6" r="4.25"/><circle cx="415.1" cy="282.9" r="4.25"/><circle cx="402.5" cy="309.5" r="4.25"/><circle cx="406.6" cy="305.7" r="4.25"/><circle cx="412.9" cy="289.3" r="4.25"/><circle cx="403.3" cy="289.3" r="4.25"/><circle cx="404.4" cy="298.2" r="4.25"/><circle cx="425.0" cy="301.6" r="4.25"/><circle cx="426.7" cy="295.0" r="4.25"/><circle cx="424.0" cy="287.2" r="4.25"/><circle cx="423.8" cy="285.0" r="4.25"/><circle cx="424.3" cy="276.1" r="4.25"/><circle cx="428.6" cy="297.2" r="4.25"/><circle cx="418.4" cy="303.5" r="4.25"/><circle cx="431.8" cy="291.9" r="4.25"/><circle cx="430.5" cy="286.8" r="4.25"/><circle cx="419.6" cy="288.7" r="4.25"/><circle cx="418.8" cy="311.2" r="4.25"/><circle cx="428.7" cy="282.6" r="4.25"/><circle cx="425.1" cy="298.2" r="4.25"/><circle cx="426.2" cy="292.8" r="4.25"/><circle cx="422.0" cy="300.8" r="4.25"/><circle cx="429.2" cy="287.9" r="4.25"/><circle cx="426.8" cy="291.6" r="4.25"/><circle cx="426.0" cy="294.5" r="4.25"/><circle cx="419.9" cy="303.3" r="4.25"/><circle cx="418.0" cy="296.2" r="4.25"/><circle cx="426.1" cy="296.8" r="4.25"/><circle cx="418.6" cy="282.0" r="4.25"/><circle cx="422.6" cy="291.6" r="4.25"/><circle cx="426.5" cy="292.0" r="4.25"/><circle cx="417.0" cy="295.2" r="4.25"/><circle cx="416.5" cy="292.0" r="4.25"/><circle cx="424.3" cy="298.6" r="4.25"/><circle cx="417.0" cy="304.7" r="4.25"/><circle cx="428.1" cy="293.2" r="4.25"/><circle cx="427.5" cy="288.4" r="4.25"/><circle cx="420.5" cy="297.8" r="4.25"/><circle cx="420.4" cy="287.3" r="4.25"/><circle cx="421.4" cy="307.4" r="4.25"/><circle cx="427.2" cy="297.7" r="4.25"/><circle cx="429.8" cy="293.3" r="4.25"/><circle cx="431.0" cy="296.7" r="4.25"/><circle cx="427.2" cy="299.3" r="4.25"/><circle cx="422.0" cy="304.5" r="4.25"/><circle cx="430.0" cy="309.7" r="4.25"/><circle cx="429.3" cy="301.7" r="4.25"/><circle cx="428.3" cy="289.8" r="4.25"/><circle cx="420.7" cy="301.3" r="4.25"/><circle cx="429.7" cy="303.3" r="4.25"/><circle cx="437.6" cy="300.3" r="4.25"/><circle cx="445.1" cy="285.8" r="4.25"/><circle cx="432.2" cy="294.7" r="4.25"/><circle cx="437.6" cy="307.8" r="4.25"/><circle cx="435.5" cy="300.5" r="4.25"/><circle cx="433.4" cy="299.3" r="4.25"/><circle cx="438.4" cy="292.3" r="4.25"/><circle cx="432.5" cy="290.1" r="4.25"/><circle cx="438.1" cy="308.0" r="4.25"/><circle cx="444.0" cy="301.4" r="4.25"/><circle cx="442.6" cy="302.4" r="4.25"/><circle cx="434.1" cy="292.3" r="4.25"/><circle cx="443.2" cy="308.4" r="4.25"/><circle cx="440.4" cy="283.8" r="4.25"/><circle cx="443.7" cy="296.4" r="4.25"/><circle cx="442.1" cy="296.7" r="4.25"/><circle cx="446.5" cy="294.2" r="4.25"/><circle cx="443.5" cy="304.8" r="4.25"/><circle cx="442.2" cy="295.7" r="4.25"/><circle cx="444.5" cy="299.7" r="4.25"/><circle cx="441.9" cy="293.6" r="4.25"/><circle cx="442.4" cy="301.1" r="4.25"/><circle cx="440.7" cy="281.2" r="4.25"/><circle cx="433.7" cy="294.4" r="4.25"/><circle cx="445.2" cy="295.1" r="4.25"/><circle cx="442.9" cy="293.1" r="4.25"/><circle cx="437.7" cy="278.3" r="4.25"/><circle cx="438.7" cy="301.4" r="4.25"/><circle cx="447.0" cy="296.3" r="4.25"/><circle cx="435.4" cy="281.2" r="4.25"/><circle cx="439.5" cy="296.2" r="4.25"/><circle cx="442.2" cy="304.5" r="4.25"/><circle cx="434.1" cy="307.2" r="4.25"/><circle cx="438.0" cy="289.1" r="4.25"/><circle cx="436.5" cy="289.9" r="4.25"/><circle cx="442.5" cy="292.1" r="4.25"/><circle cx="445.2" cy="310.6" r="4.25"/><circle cx="436.0" cy="284.9" r="4.25"/><circle cx="434.5" cy="304.7" r="4.25"/><circle cx="444.4" cy="298.2" r="4.25"/><circle cx="458.9" cy="293.2" r="4.25"/><circle cx="452.1" cy="290.8" r="4.25"/><circle cx="450.2" cy="294.6" r="4.25"/><circle cx="461.2" cy="294.2" r="4.25"/><circle cx="457.6" cy="297.9" r="4.25"/><circle cx="455.6" cy="309.1" r="4.25"/><circle cx="461.5" cy="294.8" r="4.25"/><circle cx="454.8" cy="294.3" r="4.25"/><circle cx="461.0" cy="294.6" r="4.25"/><circle cx="458.3" cy="307.4" r="4.25"/><circle cx="458.0" cy="303.2" r="4.25"/><circle cx="448.7" cy="291.6" r="4.25"/><circle cx="458.3" cy="304.0" r="4.25"/><circle cx="458.9" cy="299.4" r="4.25"/><circle cx="460.0" cy="284.7" r="4.25"/><circle cx="462.4" cy="301.3" r="4.25"/><circle cx="452.0" cy="289.2" r="4.25"/><circle cx="462.7" cy="276.5" r="4.25"/><circle cx="460.7" cy="292.1" r="4.25"/><circle cx="457.3" cy="309.4" r="4.25"/><circle cx="458.1" cy="290.8" r="4.25"/><circle cx="458.7" cy="280.1" r="4.25"/><circle cx="448.7" cy="299.2" r="4.25"/><circle cx="449.2" cy="299.3" r="4.25"/><circle cx="463.2" cy="303.4" r="4.25"/><circle cx="460.8" cy="278.0" r="4.25"/><circle cx="455.6" cy="277.7" r="4.25"/><circle cx="450.2" cy="307.2" r="4.25"/><circle cx="454.0" cy="297.9" r="4.25"/><circle cx="462.0" cy="293.5" r="4.25"/><circle cx="452.2" cy="304.6" r="4.25"/><circle cx="449.3" cy="292.8" r="4.25"/><circle cx="451.6" cy="299.4" r="4.25"/><circle cx="459.8" cy="306.6" r="4.25"/><circle cx="460.1" cy="288.2" r="4.25"/><circle cx="456.2" cy="294.1" r="4.25"/><circle cx="459.0" cy="294.2" r="4.25"/><circle cx="460.4" cy="282.2" r="4.25"/><circle cx="460.2" cy="292.0" r="4.25"/><circle cx="456.7" cy="306.6" r="4.25"/><circle cx="448.9" cy="301.1" r="4.25"/><circle cx="452.0" cy="293.8" r="4.25"/><circle cx="454.1" cy="296.6" r="4.25"/><circle cx="477.0" cy="275.2" r="4.25"/><circle cx="464.6" cy="281.3" r="4.25"/><circle cx="468.5" cy="299.0" r="4.25"/><circle cx="467.8" cy="282.9" r="4.25"/><circle cx="467.2" cy="310.1" r="4.25"/><circle cx="470.8" cy="280.3" r="4.25"/><circle cx="470.9" cy="286.8" r="4.25"/><circle cx="467.2" cy="275.7" r="4.25"/><circle cx="467.9" cy="296.6" r="4.25"/><circle cx="466.4" cy="295.7" r="4.25"/><circle cx="468.3" cy="290.5" r="4.25"/><circle cx="478.4" cy="284.1" r="4.25"/><circle cx="475.2" cy="285.9" r="4.25"/><circle cx="469.1" cy="285.8" r="4.25"/><circle cx="466.7" cy="292.2" r="4.25"/><circle cx="466.6" cy="299.2" r="4.25"/><circle cx="473.4" cy="295.9" r="4.25"/><circle cx="476.6" cy="302.2" r="4.25"/><circle cx="470.2" cy="303.1" r="4.25"/><circle cx="477.0" cy="306.4" r="4.25"/><circle cx="471.3" cy="307.8" r="4.25"/><circle cx="466.3" cy="294.0" r="4.25"/><circle cx="470.8" cy="296.8" r="4.25"/><circle cx="468.8" cy="301.2" r="4.25"/><circle cx="478.8" cy="294.5" r="4.25"/><circle cx="479.0" cy="290.6" r="4.25"/><circle cx="473.2" cy="294.5" r="4.25"/><circle cx="475.1" cy="279.1" r="4.25"/><circle cx="465.7" cy="296.7" r="4.25"/><circle cx="472.8" cy="302.5" r="4.25"/><circle cx="470.4" cy="306.2" r="4.25"/><circle cx="469.1" cy="289.7" r="4.25"/><circle cx="478.2" cy="304.3" r="4.25"/><circle cx="472.1" cy="277.3" r="4.25"/><circle cx="479.1" cy="297.9" r="4.25"/><circle cx="472.3" cy="311.6" r="4.25"/><circle cx="478.8" cy="289.9" r="4.25"/><circle cx="478.9" cy="296.0" r="4.25"/><circle cx="465.7" cy="284.0" r="4.25"/><circle cx="465.1" cy="292.6" r="4.25"/><circle cx="466.9" cy="300.7" r="4.25"/><circle cx="468.6" cy="290.3" r="4.25"/><circle cx="463.9" cy="292.5" r="4.25"/><circle cx="477.5" cy="297.2" r="4.25"/><circle cx="465.5" cy="286.0" r="4.25"/><circle cx="469.3" cy="299.8" r="4.25"/><circle cx="471.9" cy="299.1" r="4.25"/><circle cx="475.8" cy="300.5" r="4.25"/><circle cx="470.3" cy="298.3" r="4.25"/><circle cx="471.0" cy="301.7" r="4.25"/><circle cx="468.8" cy="298.4" r="4.25"/><circle cx="484.4" cy="282.4" r="4.25"/><circle cx="484.7" cy="304.4" r="4.25"/><circle cx="487.4" cy="310.7" r="4.25"/><circle cx="487.7" cy="301.1" r="4.25"/><circle cx="494.5" cy="300.3" r="4.25"/><circle cx="485.9" cy="294.2" r="4.25"/><circle cx="487.2" cy="293.9" r="4.25"/><circle cx="487.9" cy="308.3" r="4.25"/><circle cx="487.7" cy="280.5" r="4.25"/><circle cx="493.6" cy="296.6" r="4.25"/><circle cx="482.5" cy="287.9" r="4.25"/><circle cx="489.6" cy="277.4" r="4.25"/><circle cx="479.6" cy="286.7" r="4.25"/><circle cx="487.4" cy="296.0" r="4.25"/><circle cx="488.6" cy="296.8" r="4.25"/><circle cx="481.1" cy="282.7" r="4.25"/><circle cx="492.3" cy="279.8" r="4.25"/><circle cx="485.1" cy="284.2" r="4.25"/><circle cx="488.8" cy="294.9" r="4.25"/><circle cx="494.3" cy="307.5" r="4.25"/><circle cx="484.4" cy="297.8" r="4.25"/><circle cx="485.7" cy="302.1" r="4.25"/><circle cx="492.1" cy="290.6" r="4.25"/><circle cx="484.1" cy="296.9" r="4.25"/><circle cx="480.6" cy="280.9" r="4.25"/><circle cx="484.0" cy="291.4" r="4.25"/><circle cx="490.7" cy="284.2" r="4.25"/><circle cx="486.6" cy="304.6" r="4.25"/><circle cx="483.1" cy="296.8" r="4.25"/><circle cx="488.8" cy="296.1" r="4.25"/><circle cx="481.5" cy="294.3" r="4.25"/><circle cx="490.0" cy="295.7" r="4.25"/><circle cx="493.0" cy="287.7" r="4.25"/><circle cx="485.3" cy="295.8" r="4.25"/><circle cx="483.1" cy="281.5" r="4.25"/><circle cx="491.8" cy="304.3" r="4.25"/><circle cx="490.3" cy="301.4" r="4.25"/><circle cx="483.5" cy="307.3" r="4.25"/><circle cx="494.0" cy="299.2" r="4.25"/><circle cx="482.1" cy="289.9" r="4.25"/><circle cx="489.6" cy="286.7" r="4.25"/><circle cx="486.4" cy="301.4" r="4.25"/><circle cx="491.8" cy="291.4" r="4.25"/><circle cx="480.3" cy="291.0" r="4.25"/><circle cx="491.4" cy="281.7" r="4.25"/><circle cx="484.0" cy="280.2" r="4.25"/><circle cx="491.2" cy="305.6" r="4.25"/><circle cx="486.3" cy="292.1" r="4.25"/><circle cx="480.2" cy="298.7" r="4.25"/><circle cx="489.6" cy="296.1" r="4.25"/><circle cx="486.1" cy="289.8" r="4.25"/><circle cx="490.2" cy="290.2" r="4.25"/><circle cx="485.1" cy="286.4" r="4.25"/><circle cx="484.8" cy="306.1" r="4.25"/><circle cx="489.0" cy="293.0" r="4.25"/><circle cx="484.1" cy="296.3" r="4.25"/><circle cx="482.7" cy="300.8" r="4.25"/><circle cx="487.0" cy="296.6" r="4.25"/><circle cx="495.2" cy="302.9" r="4.25"/><circle cx="481.3" cy="295.0" r="4.25"/><circle cx="509.9" cy="299.7" r="4.25"/><circle cx="499.3" cy="290.8" r="4.25"/><circle cx="508.7" cy="290.6" r="4.25"/><circle cx="498.0" cy="298.5" r="4.25"/><circle cx="508.4" cy="289.5" r="4.25"/><circle cx="499.2" cy="276.5" r="4.25"/><circle cx="509.7" cy="312.3" r="4.25"/><circle cx="504.6" cy="275.8" r="4.25"/><circle cx="496.8" cy="277.3" r="4.25"/><circle cx="508.7" cy="304.7" r="4.25"/><circle cx="503.5" cy="295.6" r="4.25"/><circle cx="509.7" cy="284.0" r="4.25"/><circle cx="498.5" cy="283.9" r="4.25"/><circle cx="506.1" cy="301.7" r="4.25"/><circle cx="505.6" cy="289.6" r="4.25"/><circle cx="498.4" cy="300.8" r="4.25"/><circle cx="501.3" cy="301.0" r="4.25"/><circle cx="497.2" cy="286.4" r="4.25"/><circle cx="499.4" cy="282.6" r="4.25"/><circle cx="499.0" cy="296.9" r="4.25"/><circle cx="501.8" cy="277.3" r="4.25"/><circle cx="506.7" cy="302.8" r="4.25"/><circle cx="497.0" cy="307.0" r="4.25"/><circle cx="507.6" cy="281.2" r="4.25"/><circle cx="502.1" cy="305.7" r="4.25"/><circle cx="509.9" cy="308.3" r="4.25"/><circle cx="506.1" cy="308.6" r="4.25"/><circle cx="506.8" cy="276.3" r="4.25"/><circle cx="508.1" cy="280.3" r="4.25"/><circle cx="502.4" cy="305.9" r="4.25"/><circle cx="497.1" cy="308.2" r="4.25"/><circle cx="501.4" cy="280.6" r="4.25"/><circle cx="502.9" cy="280.8" r="4.25"/><circle cx="496.6" cy="290.4" r="4.25"/><circle cx="496.1" cy="283.6" r="4.25"/><circle cx="511.0" cy="279.0" r="4.25"/><circle cx="503.3" cy="288.3" r="4.25"/><circle cx="495.9" cy="293.0" r="4.25"/><circle cx="505.4" cy="301.3" r="4.25"/><circle cx="510.2" cy="301.6" r="4.25"/><circle cx="505.4" cy="294.3" r="4.25"/><circle cx="500.9" cy="285.7" r="4.25"/><circle cx="502.4" cy="295.8" r="4.25"/><circle cx="500.3" cy="300.2" r="4.25"/><circle cx="509.9" cy="303.0" r="4.25"/><circle cx="501.0" cy="300.9" r="4.25"/><circle cx="518.9" cy="307.7" r="4.25"/><circle cx="515.4" cy="302.2" r="4.25"/><circle cx="524.9" cy="302.3" r="4.25"/><circle cx="512.4" cy="304.2" r="4.25"/><circle cx="519.7" cy="305.6" r="4.25"/><circle cx="516.4" cy="299.6" r="4.25"/><circle cx="512.1" cy="297.3" r="4.25"/><circle cx="520.6" cy="288.9" r="4.25"/><circle cx="512.7" cy="284.9" r="4.25"/><circle cx="517.9" cy="294.1" r="4.25"/><circle cx="516.4" cy="301.9" r="4.25"/><circle cx="516.1" cy="297.7" r="4.25"/><circle cx="526.1" cy="285.7" r="4.25"/><circle cx="513.3" cy="276.9" r="4.25"/><circle cx="517.0" cy="284.7" r="4.25"/><circle cx="511.6" cy="302.0" r="4.25"/><circle cx="521.3" cy="292.8" r="4.25"/><circle cx="512.9" cy="303.1" r="4.25"/><circle cx="512.1" cy="295.1" r="4.25"/><circle cx="521.1" cy="290.2" r="4.25"/><circle cx="514.4" cy="299.7" r="4.25"/><circle cx="520.2" cy="280.7" r="4.25"/><circle cx="523.1" cy="307.7" r="4.25"/><circle cx="513.7" cy="299.9" r="4.25"/><circle cx="514.5" cy="307.2" r="4.25"/><circle cx="512.7" cy="281.7" r="4.25"/><circle cx="525.7" cy="298.2" r="4.25"/><circle cx="514.9" cy="305.3" r="4.25"/><circle cx="514.9" cy="296.9" r="4.25"/><circle cx="516.2" cy="308.6" r="4.25"/><circle cx="514.0" cy="302.6" r="4.25"/><circle cx="516.8" cy="292.1" r="4.25"/><circle cx="525.2" cy="301.8" r="4.25"/><circle cx="511.9" cy="295.1" r="4.25"/><circle cx="522.1" cy="300.2" r="4.25"/><circle cx="525.0" cy="301.1" r="4.25"/><circle cx="517.3" cy="295.1" r="4.25"/><circle cx="511.3" cy="298.0" r="4.25"/><circle cx="515.0" cy="291.0" r="4.25"/><circle cx="525.6" cy="275.8" r="4.25"/><circle cx="522.5" cy="294.4" r="4.25"/><circle cx="521.1" cy="296.2" r="4.25"/><circle cx="518.7" cy="300.4" r="4.25"/><circle cx="525.9" cy="294.5" r="4.25"/><circle cx="513.9" cy="306.6" r="4.25"/><circle cx="524.9" cy="277.6" r="4.25"/><circle cx="513.6" cy="291.0" r="4.25"/><circle cx="518.4" cy="283.4" r="4.25"/><circle cx="518.3" cy="292.8" r="4.25"/><circle cx="517.0" cy="296.1" r="4.25"/><circle cx="511.5" cy="288.3" r="4.25"/><circle cx="522.6" cy="289.7" r="4.25"/><circle cx="521.3" cy="308.1" r="4.25"/><circle cx="517.1" cy="277.3" r="4.25"/><circle cx="517.6" cy="298.7" r="4.25"/><circle cx="525.8" cy="285.9" r="4.25"/><circle cx="516.4" cy="275.4" r="4.25"/><circle cx="525.4" cy="303.3" r="4.25"/><circle cx="524.5" cy="294.8" r="4.25"/><circle cx="519.0" cy="292.7" r="4.25"/><circle cx="511.8" cy="300.2" r="4.25"/><circle cx="530.5" cy="275.1" r="4.25"/><circle cx="538.9" cy="297.2" r="4.25"/><circle cx="527.9" cy="301.0" r="4.25"/><circle cx="540.8" cy="283.8" r="4.25"/><circle cx="531.4" cy="289.8" r="4.25"/><circle cx="535.1" cy="297.2" r="4.25"/><circle cx="540.6" cy="290.5" r="4.25"/><circle cx="532.9" cy="294.7" r="4.25"/><circle cx="530.2" cy="311.9" r="4.25"/><circle cx="535.4" cy="294.2" r="4.25"/><circle cx="531.6" cy="298.7" r="4.25"/><circle cx="534.0" cy="309.0" r="4.25"/><circle cx="540.7" cy="276.4" r="4.25"/><circle cx="539.7" cy="293.6" r="4.25"/><circle cx="540.3" cy="280.4" r="4.25"/><circle cx="539.4" cy="312.8" r="4.25"/><circle cx="537.9" cy="285.4" r="4.25"/><circle cx="531.7" cy="288.2" r="4.25"/><circle cx="541.4" cy="286.7" r="4.25"/><circle cx="528.5" cy="293.3" r="4.25"/><circle cx="540.1" cy="280.3" r="4.25"/><circle cx="535.3" cy="289.6" r="4.25"/><circle cx="528.5" cy="292.5" r="4.25"/><circle cx="529.2" cy="286.4" r="4.25"/><circle cx="542.0" cy="303.1" r="4.25"/><circle cx="538.8" cy="287.0" r="4.25"/><circle cx="528.5" cy="292.9" r="4.25"/><circle cx="535.1" cy="282.0" r="4.25"/><circle cx="532.6" cy="293.6" r="4.25"/><circle cx="532.3" cy="304.2" r="4.25"/><circle cx="540.9" cy="282.8" r="4.25"/><circle cx="529.6" cy="294.6" r="4.25"/><circle cx="530.2" cy="284.3" r="4.25"/><circle cx="537.9" cy="287.2" r="4.25"/><circle cx="533.2" cy="295.8" r="4.25"/><circle cx="536.2" cy="288.1" r="4.25"/><circle cx="530.9" cy="297.6" r="4.25"/><circle cx="538.0" cy="307.3" r="4.25"/><circle cx="530.9" cy="299.4" r="4.25"/><circle cx="530.1" cy="289.7" r="4.25"/><circle cx="539.5" cy="294.6" r="4.25"/><circle cx="537.1" cy="288.0" r="4.25"/><circle cx="528.5" cy="301.4" r="4.25"/><circle cx="538.8" cy="280.9" r="4.25"/><circle cx="538.8" cy="304.6" r="4.25"/><circle cx="539.4" cy="307.6" r="4.25"/><circle cx="542.0" cy="280.1" r="4.25"/><circle cx="530.7" cy="289.0" r="4.25"/><circle cx="537.9" cy="301.1" r="4.25"/><circle cx="541.9" cy="306.9" r="4.25"/><circle cx="556.1" cy="288.1" r="4.25"/><circle cx="542.9" cy="297.4" r="4.25"/><circle cx="549.5" cy="300.7" r="4.25"/><circle cx="556.2" cy="301.7" r="4.25"/><circle cx="553.9" cy="293.7" r="4.25"/><circle cx="553.6" cy="275.0" r="4.25"/><circle cx="548.6" cy="286.4" r="4.25"/><circle cx="556.0" cy="282.7" r="4.25"/><circle cx="557.8" cy="292.8" r="4.25"/><circle cx="551.6" cy="306.3" r="4.25"/><circle cx="553.4" cy="276.2" r="4.25"/><circle cx="553.3" cy="301.2" r="4.25"/><circle cx="550.7" cy="291.8" r="4.25"/><circle cx="553.6" cy="294.9" r="4.25"/><circle cx="556.9" cy="282.3" r="4.25"/><circle cx="554.7" cy="301.8" r="4.25"/><circle cx="558.1" cy="299.4" r="4.25"/><circle cx="555.9" cy="307.3" r="4.25"/><circle cx="545.4" cy="302.4" r="4.25"/><circle cx="546.0" cy="289.1" r="4.25"/><circle cx="549.1" cy="291.9" r="4.25"/><circle cx="550.0" cy="305.6" r="4.25"/><circle cx="554.8" cy="294.3" r="4.25"/><circle cx="548.6" cy="312.1" r="4.25"/><circle cx="547.0" cy="291.2" r="4.25"/><circle cx="549.4" cy="308.7" r="4.25"/><circle cx="552.9" cy="298.9" r="4.25"/><circle cx="548.2" cy="292.8" r="4.25"/><circle cx="551.2" cy="293.6" r="4.25"/><circle cx="548.2" cy="277.4" r="4.25"/><circle cx="552.0" cy="294.2" r="4.25"/><circle cx="556.1" cy="281.8" r="4.25"/><circle cx="557.0" cy="298.6" r="4.25"/><circle cx="554.0" cy="299.8" r="4.25"/><circle cx="555.9" cy="290.4" r="4.25"/><circle cx="558.3" cy="307.2" r="4.25"/><circle cx="549.9" cy="292.8" r="4.25"/><circle cx="544.6" cy="287.9" r="4.25"/><circle cx="546.3" cy="308.1" r="4.25"/><circle cx="549.5" cy="276.2" r="4.25"/><circle cx="550.9" cy="302.1" r="4.25"/><circle cx="550.4" cy="283.1" r="4.25"/><circle cx="548.2" cy="289.3" r="4.25"/><circle cx="551.0" cy="296.4" r="4.25"/><circle cx="551.7" cy="297.7" r="4.25"/><circle cx="554.3" cy="303.1" r="4.25"/><circle cx="554.3" cy="301.9" r="4.25"/><circle cx="558.5" cy="291.4" r="4.25"/><circle cx="555.6" cy="296.9" r="4.25"/><circle cx="555.1" cy="291.7" r="4.25"/><circle cx="550.4" cy="308.6" r="4.25"/><circle cx="550.9" cy="290.2" r="4.25"/><circle cx="554.1" cy="309.4" r="4.25"/><circle cx="555.7" cy="308.5" r="4.25"/><circle cx="552.1" cy="297.5" r="4.25"/><circle cx="543.5" cy="306.2" r="4.25"/><circle cx="568.5" cy="306.5" r="4.25"/><circle cx="573.0" cy="296.9" r="4.25"/><circle cx="565.9" cy="299.7" r="4.25"/><circle cx="570.1" cy="277.1" r="4.25"/><circle cx="562.4" cy="299.4" r="4.25"/><circle cx="568.1" cy="278.5" r="4.25"/><circle cx="564.9" cy="298.6" r="4.25"/><circle cx="573.2" cy="290.8" r="4.25"/><circle cx="566.8" cy="281.1" r="4.25"/><circle cx="558.7" cy="306.1" r="4.25"/><circle cx="568.5" cy="298.7" r="4.25"/><circle cx="567.3" cy="289.3" r="4.25"/><circle cx="559.0" cy="304.5" r="4.25"/><circle cx="561.9" cy="296.9" r="4.25"/><circle cx="564.2" cy="281.5" r="4.25"/><circle cx="560.3" cy="295.8" r="4.25"/><circle cx="574.1" cy="303.4" r="4.25"/><circle cx="569.6" cy="300.4" r="4.25"/><circle cx="568.9" cy="310.9" r="4.25"/><circle cx="572.5" cy="286.1" r="4.25"/><circle cx="563.4" cy="295.6" r="4.25"/><circle cx="574.2" cy="297.9" r="4.25"/><circle cx="570.6" cy="290.2" r="4.25"/><circle cx="571.2" cy="296.9" r="4.25"/><circle cx="568.6" cy="294.4" r="4.25"/><circle cx="567.0" cy="300.3" r="4.25"/><circle cx="573.1" cy="297.7" r="4.25"/><circle cx="561.4" cy="293.5" r="4.25"/><circle cx="562.6" cy="291.5" r="4.25"/><circle cx="573.9" cy="300.0" r="4.25"/><circle cx="563.5" cy="279.5" r="4.25"/><circle cx="560.9" cy="282.9" r="4.25"/><circle cx="563.0" cy="302.4" r="4.25"/><circle cx="565.1" cy="300.8" r="4.25"/><circle cx="564.1" cy="309.1" r="4.25"/><circle cx="572.2" cy="305.4" r="4.25"/><circle cx="573.0" cy="281.9" r="4.25"/><circle cx="560.9" cy="280.0" r="4.25"/><circle cx="578.0" cy="279.8" r="4.25"/><circle cx="589.7" cy="293.3" r="4.25"/><circle cx="578.5" cy="294.5" r="4.25"/><circle cx="587.1" cy="289.4" r="4.25"/><circle cx="577.9" cy="295.4" r="4.25"/><circle cx="575.3" cy="298.5" r="4.25"/><circle cx="576.3" cy="293.4" r="4.25"/><circle cx="582.1" cy="284.4" r="4.25"/><circle cx="580.2" cy="292.0" r="4.25"/><circle cx="586.2" cy="292.4" r="4.25"/><circle cx="576.2" cy="312.1" r="4.25"/><circle cx="577.8" cy="278.3" r="4.25"/><circle cx="586.0" cy="277.2" r="4.25"/><circle cx="580.2" cy="280.0" r="4.25"/><circle cx="584.8" cy="297.4" r="4.25"/><circle cx="578.2" cy="294.0" r="4.25"/><circle cx="589.4" cy="298.4" r="4.25"/><circle cx="578.1" cy="298.1" r="4.25"/><circle cx="575.0" cy="296.7" r="4.25"/><circle cx="589.3" cy="293.5" r="4.25"/><circle cx="578.2" cy="294.5" r="4.25"/><circle cx="590.2" cy="302.2" r="4.25"/><circle cx="590.3" cy="296.2" r="4.25"/><circle cx="580.9" cy="287.7" r="4.25"/><circle cx="577.0" cy="309.3" r="4.25"/><circle cx="583.4" cy="302.6" r="4.25"/><circle cx="576.8" cy="282.7" r="4.25"/><circle cx="578.2" cy="282.3" r="4.25"/><circle cx="584.9" cy="303.7" r="4.25"/><circle cx="587.2" cy="300.4" r="4.25"/><circle cx="584.9" cy="298.7" r="4.25"/><circle cx="578.5" cy="289.5" r="4.25"/><circle cx="586.2" cy="300.7" r="4.25"/><circle cx="582.0" cy="299.3" r="4.25"/><circle cx="586.9" cy="289.1" r="4.25"/><circle cx="585.0" cy="302.7" r="4.25"/><circle cx="575.0" cy="283.4" r="4.25"/><circle cx="589.4" cy="301.3" r="4.25"/><circle cx="586.6" cy="305.5" r="4.25"/><circle cx="577.6" cy="301.7" r="4.25"/><circle cx="587.9" cy="305.9" r="4.25"/><circle cx="585.9" cy="291.2" r="4.25"/><circle cx="574.8" cy="280.3" r="4.25"/><circle cx="579.8" cy="295.7" r="4.25"/><circle cx="575.3" cy="278.9" r="4.25"/><circle cx="585.5" cy="287.0" r="4.25"/><circle cx="577.5" cy="311.9" r="4.25"/><circle cx="585.4" cy="293.3" r="4.25"/><circle cx="576.0" cy="302.3" r="4.25"/><circle cx="578.1" cy="281.9" r="4.25"/><circle cx="583.7" cy="282.0" r="4.25"/><circle cx="582.9" cy="303.3" r="4.25"/><circle cx="584.6" cy="299.8" r="4.25"/><circle cx="579.4" cy="301.9" r="4.25"/><circle cx="587.6" cy="297.8" r="4.25"/><circle cx="585.9" cy="276.3" r="4.25"/><circle cx="582.6" cy="280.3" r="4.25"/><circle cx="577.6" cy="282.8" r="4.25"/><circle cx="582.8" cy="302.8" r="4.25"/><circle cx="582.1" cy="287.7" r="4.25"/><circle cx="585.7" cy="301.2" r="4.25"/><circle cx="584.3" cy="283.1" r="4.25"/><circle cx="575.6" cy="298.9" r="4.25"/><circle cx="592.0" cy="278.9" r="4.25"/><circle cx="593.0" cy="300.9" r="4.25"/><circle cx="605.7" cy="284.2" r="4.25"/><circle cx="601.9" cy="284.6" r="4.25"/><circle cx="603.2" cy="290.2" r="4.25"/><circle cx="592.6" cy="307.4" r="4.25"/><circle cx="593.3" cy="292.7" r="4.25"/><circle cx="590.5" cy="299.9" r="4.25"/><circle cx="595.5" cy="304.5" r="4.25"/><circle cx="595.9" cy="296.9" r="4.25"/><circle cx="600.3" cy="304.9" r="4.25"/><circle cx="606.0" cy="299.0" r="4.25"/><circle cx="600.7" cy="292.6" r="4.25"/><circle cx="603.3" cy="292.6" r="4.25"/><circle cx="592.5" cy="310.8" r="4.25"/><circle cx="604.1" cy="294.9" r="4.25"/><circle cx="604.1" cy="289.6" r="4.25"/><circle cx="590.7" cy="308.0" r="4.25"/><circle cx="602.0" cy="288.9" r="4.25"/><circle cx="595.2" cy="298.2" r="4.25"/><circle cx="595.2" cy="306.0" r="4.25"/><circle cx="603.4" cy="294.7" r="4.25"/><circle cx="593.6" cy="295.4" r="4.25"/><circle cx="597.1" cy="282.7" r="4.25"/><circle cx="593.8" cy="298.7" r="4.25"/><circle cx="597.1" cy="293.4" r="4.25"/><circle cx="595.1" cy="287.3" r="4.25"/><circle cx="600.9" cy="280.1" r="4.25"/><circle cx="602.9" cy="286.3" r="4.25"/><circle cx="604.5" cy="303.7" r="4.25"/><circle cx="592.6" cy="298.7" r="4.25"/><circle cx="594.7" cy="294.5" r="4.25"/><circle cx="595.7" cy="299.0" r="4.25"/><circle cx="593.1" cy="298.1" r="4.25"/><circle cx="602.1" cy="299.3" r="4.25"/><circle cx="591.1" cy="312.6" r="4.25"/><circle cx="602.9" cy="302.6" r="4.25"/><circle cx="595.6" cy="302.0" r="4.25"/><circle cx="615.9" cy="290.7" r="4.25"/><circle cx="611.1" cy="296.5" r="4.25"/><circle cx="613.8" cy="312.4" r="4.25"/><circle cx="608.8" cy="275.7" r="4.25"/><circle cx="611.7" cy="295.5" r="4.25"/><circle cx="619.8" cy="297.5" r="4.25"/><circle cx="611.7" cy="298.0" r="4.25"/><circle cx="614.9" cy="299.1" r="4.25"/><circle cx="611.9" cy="304.7" r="4.25"/><circle cx="621.1" cy="295.2" r="4.25"/><circle cx="620.3" cy="294.4" r="4.25"/><circle cx="613.7" cy="289.4" r="4.25"/><circle cx="612.0" cy="295.4" r="4.25"/><circle cx="610.5" cy="286.8" r="4.25"/><circle cx="609.2" cy="275.1" r="4.25"/><circle cx="610.3" cy="299.2" r="4.25"/><circle cx="609.2" cy="298.4" r="4.25"/><circle cx="618.0" cy="297.7" r="4.25"/><circle cx="609.0" cy="299.5" r="4.25"/><circle cx="621.6" cy="295.2" r="4.25"/><circle cx="621.8" cy="302.4" r="4.25"/><circle cx="617.8" cy="276.7" r="4.25"/><circle cx="618.6" cy="294.9" r="4.25"/><circle cx="611.4" cy="292.0" r="4.25"/><circle cx="615.0" cy="284.7" r="4.25"/><circle cx="618.8" cy="300.4" r="4.25"/><circle cx="612.7" cy="300.1" r="4.25"/><circle cx="621.2" cy="311.6" r="4.25"/><circle cx="620.4" cy="304.7" r="4.25"/><circle cx="611.1" cy="301.9" r="4.25"/><circle cx="613.8" cy="286.2" r="4.25"/><circle cx="618.1" cy="281.3" r="4.25"/><circle cx="607.9" cy="306.7" r="4.25"/><circle cx="616.4" cy="282.9" r="4.25"/><circle cx="610.5" cy="292.1" r="4.25"/><circle cx="612.9" cy="292.8" r="4.25"/><circle cx="612.5" cy="312.4" r="4.25"/><circle cx="608.4" cy="303.1" r="4.25"/><circle cx="617.8" cy="282.0" r="4.25"/><circle cx="606.6" cy="297.0" r="4.25"/><circle cx="606.7" cy="294.8" r="4.25"/><circle cx="620.9" cy="290.8" r="4.25"/><circle cx="609.1" cy="295.6" r="4.25"/><circle cx="618.5" cy="286.3" r="4.25"/><circle cx="621.5" cy="299.7" r="4.25"/><circle cx="607.7" cy="310.5" r="4.25"/><circle cx="613.4" cy="303.7" r="4.25"/><circle cx="616.9" cy="295.2" r="4.25"/><circle cx="613.9" cy="289.5" r="4.25"/><circle cx="624.5" cy="307.2" r="4.25"/><circle cx="624.2" cy="297.7" r="4.25"/><circle cx="622.4" cy="290.9" r="4.25"/><circle cx="636.9" cy="301.3" r="4.25"/><circle cx="630.5" cy="305.4" r="4.25"/><circle cx="637.3" cy="285.9" r="4.25"/><circle cx="630.7" cy="288.7" r="4.25"/><circle cx="632.5" cy="298.0" r="4.25"/><circle cx="636.7" cy="286.5" r="4.25"/><circle cx="628.3" cy="303.0" r="4.25"/><circle cx="633.7" cy="290.8" r="4.25"/><circle cx="630.7" cy="292.2" r="4.25"/><circle cx="624.3" cy="298.7" r="4.25"/><circle cx="630.8" cy="294.3" r="4.25"/><circle cx="628.6" cy="287.2" r="4.25"/><circle cx="623.4" cy="295.3" r="4.25"/><circle cx="632.5" cy="306.7" r="4.25"/><circle cx="624.8" cy="279.4" r="4.25"/><circle cx="628.6" cy="288.6" r="4.25"/><circle cx="624.4" cy="289.7" r="4.25"/><circle cx="628.7" cy="285.5" r="4.25"/><circle cx="632.2" cy="282.1" r="4.25"/><circle cx="627.2" cy="281.4" r="4.25"/><circle cx="632.5" cy="293.7" r="4.25"/><circle cx="622.0" cy="289.3" r="4.25"/><circle cx="637.7" cy="290.1" r="4.25"/><circle cx="632.8" cy="296.6" r="4.25"/><circle cx="632.5" cy="292.8" r="4.25"/><circle cx="645.2" cy="282.9" r="4.25"/><circle cx="648.8" cy="297.7" r="4.25"/><circle cx="650.4" cy="283.9" r="4.25"/><circle cx="649.2" cy="293.4" r="4.25"/><circle cx="653.2" cy="297.5" r="4.25"/><circle cx="651.4" cy="302.5" r="4.25"/><circle cx="639.6" cy="293.6" r="4.25"/><circle cx="643.3" cy="303.5" r="4.25"/><circle cx="651.4" cy="297.7" r="4.25"/><circle cx="640.9" cy="294.7" r="4.25"/><circle cx="647.1" cy="290.0" r="4.25"/><circle cx="648.3" cy="288.5" r="4.25"/><circle cx="650.1" cy="296.1" r="4.25"/><circle cx="643.7" cy="289.3" r="4.25"/><circle cx="649.3" cy="289.0" r="4.25"/><circle cx="649.7" cy="302.2" r="4.25"/><circle cx="648.4" cy="299.4" r="4.25"/><circle cx="641.4" cy="291.0" r="4.25"/><circle cx="643.6" cy="288.8" r="4.25"/><circle cx="651.5" cy="295.1" r="4.25"/><circle cx="640.2" cy="286.2" r="4.25"/><circle cx="651.2" cy="306.8" r="4.25"/><circle cx="639.6" cy="306.7" r="4.25"/><circle cx="638.1" cy="295.3" r="4.25"/><circle cx="649.8" cy="287.6" r="4.25"/><circle cx="648.4" cy="301.7" r="4.25"/><circle cx="641.4" cy="300.1" r="4.25"/><circle cx="647.9" cy="300.4" r="4.25"/><circle cx="644.3" cy="292.2" r="4.25"/><circle cx="641.6" cy="307.9" r="4.25"/><circle cx="650.3" cy="307.7" r="4.25"/><circle cx="638.6" cy="296.2" r="4.25"/><circle cx="646.4" cy="292.8" r="4.25"/><circle cx="665.5" cy="291.7" r="4.25"/><circle cx="660.4" cy="295.8" r="4.25"/><circle cx="669.1" cy="282.8" r="4.25"/><circle cx="667.2" cy="286.5" r="4.25"/><circle cx="663.3" cy="295.9" r="4.25"/><circle cx="659.4" cy="281.9" r="4.25"/><circle cx="666.9" cy="289.2" r="4.25"/><circle cx="659.9" cy="281.9" r="4.25"/><circle cx="657.3" cy="306.6" r="4.25"/><circle cx="664.3" cy="294.8" r="4.25"/><circle cx="663.8" cy="301.9" r="4.25"/><circle cx="663.3" cy="282.8" r="4.25"/><circle cx="655.7" cy="293.9" r="4.25"/><circle cx="662.2" cy="298.8" r="4.25"/><circle cx="660.6" cy="306.0" r="4.25"/><circle cx="657.8" cy="308.3" r="4.25"/><circle cx="653.8" cy="306.7" r="4.25"/><circle cx="667.2" cy="286.4" r="4.25"/><circle cx="658.9" cy="279.4" r="4.25"/><circle cx="658.2" cy="286.2" r="4.25"/><circle cx="669.2" cy="292.9" r="4.25"/><circle cx="666.4" cy="302.1" r="4.25"/><circle cx="662.3" cy="298.4" r="4.25"/><circle cx="660.9" cy="300.8" r="4.25"/><circle cx="658.0" cy="298.5" r="4.25"/><circle cx="657.1" cy="286.0" r="4.25"/><circle cx="669.8" cy="299.0" r="4.25"/><circle cx="672.7" cy="293.2" r="4.25"/><circle cx="681.8" cy="287.4" r="4.25"/><circle cx="670.9" cy="287.9" r="4.25"/><circle cx="678.5" cy="289.1" r="4.25"/><circle cx="673.4" cy="306.1" r="4.25"/><circle cx="671.4" cy="301.7" r="4.25"/><circle cx="680.1" cy="306.8" r="4.25"/><circle cx="672.4" cy="283.3" r="4.25"/><circle cx="672.9" cy="307.0" r="4.25"/><circle cx="678.5" cy="288.9" r="4.25"/><circle cx="670.0" cy="300.1" r="4.25"/><circle cx="681.7" cy="287.4" r="4.25"/><circle cx="679.6" cy="294.7" r="4.25"/><circle cx="680.3" cy="282.5" r="4.25"/><circle cx="673.4" cy="282.9" r="4.25"/><circle cx="692.5" cy="292.9" r="4.25"/><circle cx="691.7" cy="300.1" r="4.25"/><circle cx="689.1" cy="292.5" r="4.25"/><circle cx="685.6" cy="295.6" r="4.25"/><circle cx="687.2" cy="301.7" r="4.25"/><circle cx="691.5" cy="295.1" r="4.25"/><circle cx="163.2" cy="242.5" r="4.25"/><circle cx="307.4" cy="211.4" r="4.25"/><circle cx="315.3" cy="234.0" r="4.25"/><circle cx="253.0" cy="255.2" r="4.25"/><circle cx="270.4" cy="272.7" r="4.25"/><circle cx="281.6" cy="276.8" r="4.25"/><circle cx="252.4" cy="280.2" r="4.25"/><circle cx="250.2" cy="284.4" r="4.25"/><circle cx="220.3" cy="286.0" r="4.25"/><circle cx="228.7" cy="287.0" r="4.25"/><circle cx="237.8" cy="288.9" r="4.25"/><circle cx="163.2" cy="299.8" r="4.25"/><circle cx="205.6" cy="294.5" r="4.25"/><circle cx="250.5" cy="291.1" r="4.25"/><circle cx="255.7" cy="298.5" r="4.25"/><circle cx="266.0" cy="298.5" r="4.25"/><circle cx="265.7" cy="305.3" r="4.25"/><circle cx="274.5" cy="309.4" r="4.25"/><circle cx="251.7" cy="314.5" r="4.25"/><circle cx="283.7" cy="293.4" r="4.25"/><circle cx="289.4" cy="303.4" r="4.25"/><circle cx="195.1" cy="342.5" r="4.25"/><circle cx="304.0" cy="484.6" r="4.25"/><circle cx="401.7" cy="187.0" r="4.25"/><circle cx="468.6" cy="193.0" r="4.25"/><circle cx="505.8" cy="232.2" r="4.25"/><circle cx="697.7" cy="237.7" r="4.25"/><circle cx="675.3" cy="249.4" r="4.25"/><circle cx="731.7" cy="125.3" r="4.25"/><circle cx="773.6" cy="206.4" r="4.25"/><circle cx="778.0" cy="227.3" r="4.25"/><circle cx="849.7" cy="279.5" r="4.25"/><circle cx="829.4" cy="275.1" r="4.25"/><circle cx="830.2" cy="280.6" r="4.25"/><circle cx="825.1" cy="292.8" r="4.25"/><circle cx="751.3" cy="262.9" r="4.25"/><circle cx="799.4" cy="283.0" r="4.25"/><circle cx="805.7" cy="290.1" r="4.25"/><circle cx="795.4" cy="291.2" r="4.25"/><circle cx="791.5" cy="297.7" r="4.25"/><circle cx="795.9" cy="299.9" r="4.25"/><circle cx="771.7" cy="280.3" r="4.25"/><circle cx="764.6" cy="288.0" r="4.25"/><circle cx="772.2" cy="299.1" r="4.25"/><circle cx="778.0" cy="301.5" r="4.25"/><circle cx="740.9" cy="285.0" r="4.25"/><circle cx="744.4" cy="286.6" r="4.25"/><circle cx="725.1" cy="279.0" r="4.25"/><circle cx="728.2" cy="284.5" r="4.25"/><circle cx="731.4" cy="287.2" r="4.25"/><circle cx="721.9" cy="289.3" r="4.25"/><circle cx="727.4" cy="292.8" r="4.25"/><circle cx="721.1" cy="297.2" r="4.25"/><circle cx="756.7" cy="296.4" r="4.25"/><circle cx="753.8" cy="298.0" r="4.25"/><circle cx="751.9" cy="300.4" r="4.25"/><circle cx="759.8" cy="307.0" r="4.25"/><circle cx="752.7" cy="313.0" r="4.25"/><circle cx="761.1" cy="316.5" r="4.25"/><circle cx="720.3" cy="303.8" r="4.25"/><circle cx="727.4" cy="305.9" r="4.25"/><circle cx="728.2" cy="312.2" r="4.25"/><circle cx="725.1" cy="309.1" r="4.25"/><circle cx="750.0" cy="326.9" r="4.25"/><circle cx="791.0" cy="333.2" r="4.25"/><circle cx="822.0" cy="316.2" r="4.25"/><circle cx="832.3" cy="315.1" r="4.25"/><circle cx="820.2" cy="321.7" r="4.25"/><circle cx="721.9" cy="331.7" r="4.25"/><circle cx="863.7" cy="387.6" r="4.25"/><circle cx="733.3" cy="467.5" r="4.25"/><circle cx="370.4" cy="373.0" r="4.25"/><circle cx="484.0" cy="389.0" r="4.25"/><circle cx="708.0" cy="422.5" r="4.25"/><circle cx="317.0" cy="261.0" r="4.25"/><circle cx="315.2" cy="255.0" r="4.25"/><circle cx="329.9" cy="263.2" r="4.25"/><circle cx="348.5" cy="259.4" r="4.25"/><circle cx="352.9" cy="256.1" r="4.25"/><circle cx="350.2" cy="268.1" r="4.25"/><circle cx="337.6" cy="271.4" r="4.25"/><circle cx="360.0" cy="271.2" r="4.25"/><circle cx="370.4" cy="271.4" r="4.25"/><circle cx="378.1" cy="272.5" r="4.25"/><circle cx="380.8" cy="274.2" r="4.25"/><circle cx="387.4" cy="256.6" r="4.25"/><circle cx="394.0" cy="256.6" r="4.25"/><circle cx="403.3" cy="264.9" r="4.25"/><circle cx="422.4" cy="265.4" r="4.25"/><circle cx="309.1" cy="277.4" r="4.25"/><circle cx="315.2" cy="278.5" r="4.25"/><circle cx="306.9" cy="286.2" r="4.25"/><circle cx="321.7" cy="282.9" r="4.25"/><circle cx="326.6" cy="288.4" r="4.25"/><circle cx="310.8" cy="292.8" r="4.25"/><circle cx="306.9" cy="298.8" r="4.25"/><circle cx="302.6" cy="303.2" r="4.25"/><circle cx="308.0" cy="304.8" r="4.25"/><circle cx="317.3" cy="302.6" r="4.25"/><circle cx="321.7" cy="301.0" r="4.25"/><circle cx="333.2" cy="301.5" r="4.25"/><circle cx="337.0" cy="279.6" r="4.25"/><circle cx="342.0" cy="290.6" r="4.25"/><circle cx="349.1" cy="293.3" r="4.25"/><circle cx="355.7" cy="285.1" r="4.25"/><circle cx="363.9" cy="279.6" r="4.25"/><circle cx="365.5" cy="293.9" r="4.25"/><circle cx="374.8" cy="282.4" r="4.25"/><circle cx="378.6" cy="290.0" r="4.25"/><circle cx="356.2" cy="300.4" r="4.25"/><circle cx="358.9" cy="308.1" r="4.25"/><circle cx="346.4" cy="309.2" r="4.25"/><circle cx="356.2" cy="312.5" r="4.25"/><circle cx="370.4" cy="303.2" r="4.25"/><circle cx="370.4" cy="309.7" r="4.25"/><circle cx="366.1" cy="310.8" r="4.25"/><circle cx="395.1" cy="282.4" r="4.25"/><circle cx="394.0" cy="290.0" r="4.25"/><circle cx="396.2" cy="299.9" r="4.25"/><circle cx="381.4" cy="306.4" r="4.25"/><circle cx="380.8" cy="313.0" r="4.25"/><circle cx="383.6" cy="307.5" r="4.25"/><circle cx="414.2" cy="275.8" r="4.25"/><circle cx="421.3" cy="275.8" r="4.25"/><circle cx="426.8" cy="273.6" r="4.25"/><circle cx="414.2" cy="284.6" r="4.25"/><circle cx="421.9" cy="295.0" r="4.25"/><circle cx="413.7" cy="298.2" r="4.25"/><circle cx="423.5" cy="302.6" r="4.25"/><circle cx="429.0" cy="290.6" r="4.25"/><circle cx="435.0" cy="279.6" r="4.25"/><circle cx="435.0" cy="291.1" r="4.25"/><circle cx="411.5" cy="311.4" r="4.25"/><circle cx="418.6" cy="311.4" r="4.25"/><circle cx="402.7" cy="316.8" r="4.25"/><circle cx="427.3" cy="316.8" r="4.25"/><circle cx="414.2" cy="329.4" r="4.25"/><circle cx="414.8" cy="325.1" r="4.25"/><circle cx="431.7" cy="309.7" r="4.25"/><circle cx="333.8" cy="315.7" r="4.25"/><circle cx="330.5" cy="319.0" r="4.25"/><circle cx="296.0" cy="312.5" r="4.25"/><circle cx="345.3" cy="336.5" r="4.25"/><circle cx="328.8" cy="279.1" r="4.25"/><circle cx="332.1" cy="287.8" r="4.25"/><circle cx="333.2" cy="295.5" r="4.25"/><circle cx="345.3" cy="280.2" r="4.25"/><circle cx="347.4" cy="285.6" r="4.25"/><circle cx="352.9" cy="292.2" r="4.25"/><circle cx="361.7" cy="287.8" r="4.25"/><circle cx="367.1" cy="285.6" r="4.25"/><circle cx="372.6" cy="292.2" r="4.25"/><circle cx="385.8" cy="282.4" r="4.25"/><circle cx="389.0" cy="287.8" r="4.25"/><circle cx="389.0" cy="296.6" r="4.25"/><circle cx="401.1" cy="287.8" r="4.25"/><circle cx="405.5" cy="293.3" r="4.25"/><circle cx="406.6" cy="283.5" r="4.25"/><circle cx="401.1" cy="279.1" r="4.25"/><circle cx="405.5" cy="301.0" r="4.25"/><circle cx="401.1" cy="306.4" r="4.25"/><circle cx="416.4" cy="291.1" r="4.25"/><circle cx="420.8" cy="285.6" r="4.25"/><circle cx="427.3" cy="282.4" r="4.25"/><circle cx="430.6" cy="298.8" r="4.25"/><circle cx="419.7" cy="306.4" r="4.25"/><circle cx="371.5" cy="275.8" r="4.25"/><circle cx="363.9" cy="301.0" r="4.25"/><circle cx="446.4" cy="258.8" r="4.25"/><circle cx="483.6" cy="256.1" r="4.25"/><circle cx="503.0" cy="261.8" r="4.25"/><circle cx="502.2" cy="270.9" r="4.25"/><circle cx="513.5" cy="267.6" r="4.25"/><circle cx="479.2" cy="269.8" r="4.25"/><circle cx="450.2" cy="267.6" r="4.25"/><circle cx="445.9" cy="272.5" r="4.25"/><circle cx="444.8" cy="278.5" r="4.25"/><circle cx="553.1" cy="259.9" r="4.25"/><circle cx="565.7" cy="259.4" r="4.25"/><circle cx="548.7" cy="272.0" r="4.25"/><circle cx="541.6" cy="272.5" r="4.25"/><circle cx="559.7" cy="272.0" r="4.25"/><circle cx="526.8" cy="275.2" r="4.25"/><circle cx="511.5" cy="275.8" r="4.25"/><circle cx="492.4" cy="273.6" r="4.25"/><circle cx="453.0" cy="282.4" r="4.25"/><circle cx="466.1" cy="281.8" r="4.25"/><circle cx="476.0" cy="287.8" r="4.25"/><circle cx="467.2" cy="292.2" r="4.25"/><circle cx="456.2" cy="295.0" r="4.25"/><circle cx="439.3" cy="302.1" r="4.25"/><circle cx="438.7" cy="310.8" r="4.25"/><circle cx="449.1" cy="311.4" r="4.25"/><circle cx="455.7" cy="308.6" r="4.25"/><circle cx="465.0" cy="307.5" r="4.25"/><circle cx="451.9" cy="316.3" r="4.25"/><circle cx="471.6" cy="317.4" r="4.25"/><circle cx="489.6" cy="289.5" r="4.25"/><circle cx="498.9" cy="281.8" r="4.25"/><circle cx="513.7" cy="287.3" r="4.25"/><circle cx="508.8" cy="294.4" r="4.25"/><circle cx="502.2" cy="299.9" r="4.25"/><circle cx="495.1" cy="305.4" r="4.25"/><circle cx="508.2" cy="308.6" r="4.25"/><circle cx="488.0" cy="314.7" r="4.25"/><circle cx="492.9" cy="322.9" r="4.25"/><circle cx="524.1" cy="285.6" r="4.25"/><circle cx="519.2" cy="299.3" r="4.25"/><circle cx="527.9" cy="307.5" r="4.25"/><circle cx="523.6" cy="318.5" r="4.25"/><circle cx="525.8" cy="322.9" r="4.25"/><circle cx="537.8" cy="291.1" r="4.25"/><circle cx="544.9" cy="300.4" r="4.25"/><circle cx="546.6" cy="314.7" r="4.25"/><circle cx="546.0" cy="321.8" r="4.25"/><circle cx="557.0" cy="310.3" r="4.25"/><circle cx="552.6" cy="296.0" r="4.25"/><circle cx="563.0" cy="294.4" r="4.25"/><circle cx="568.4" cy="308.6" r="4.25"/><circle cx="573.9" cy="314.7" r="4.25"/><circle cx="573.4" cy="279.6" r="4.25"/><circle cx="554.8" cy="282.9" r="4.25"/><circle cx="534.0" cy="310.8" r="4.25"/><circle cx="460.4" cy="339.8" r="4.25"/><circle cx="477.6" cy="276.9" r="4.25"/><circle cx="485.3" cy="282.4" r="4.25"/><circle cx="479.8" cy="298.8" r="4.25"/><circle cx="472.1" cy="303.2" r="4.25"/><circle cx="482.0" cy="306.4" r="4.25"/><circle cx="461.2" cy="301.0" r="4.25"/><circle cx="445.9" cy="290.0" r="4.25"/><circle cx="439.3" cy="291.1" r="4.25"/><circle cx="532.3" cy="282.4" r="4.25"/><circle cx="541.1" cy="282.4" r="4.25"/><circle cx="534.5" cy="301.0" r="4.25"/><circle cx="545.5" cy="287.8" r="4.25"/><circle cx="561.9" cy="284.6" r="4.25"/><circle cx="570.6" cy="291.1" r="4.25"/><circle cx="571.7" cy="301.0" r="4.25"/><circle cx="559.7" cy="303.2" r="4.25"/><circle cx="518.1" cy="280.2" r="4.25"/><circle cx="503.9" cy="287.8" r="4.25"/><circle cx="497.3" cy="293.3" r="4.25"/><circle cx="514.8" cy="304.3" r="4.25"/><circle cx="488.5" cy="298.8" r="4.25"/><circle cx="461.2" cy="274.7" r="4.25"/><circle cx="455.7" cy="287.8" r="4.25"/><circle cx="583.1" cy="255.5" r="4.25"/><circle cx="588.9" cy="272.0" r="4.25"/><circle cx="599.0" cy="274.7" r="4.25"/><circle cx="614.3" cy="267.6" r="4.25"/><circle cx="620.9" cy="265.4" r="4.25"/><circle cx="623.6" cy="272.0" r="4.25"/><circle cx="629.6" cy="268.1" r="4.25"/><circle cx="637.8" cy="270.3" r="4.25"/><circle cx="648.8" cy="271.4" r="4.25"/><circle cx="650.4" cy="275.8" r="4.25"/><circle cx="629.6" cy="278.0" r="4.25"/><circle cx="641.1" cy="280.2" r="4.25"/><circle cx="618.1" cy="278.0" r="4.25"/><circle cx="612.1" cy="281.3" r="4.25"/><circle cx="598.4" cy="284.0" r="4.25"/><circle cx="590.2" cy="282.9" r="4.25"/><circle cx="581.5" cy="285.6" r="4.25"/><circle cx="581.5" cy="278.5" r="4.25"/><circle cx="576.0" cy="280.2" r="4.25"/><circle cx="666.0" cy="266.8" r="4.25"/><circle cx="681.6" cy="264.3" r="4.25"/><circle cx="695.1" cy="278.5" r="4.25"/><circle cx="711.7" cy="284.0" r="4.25"/><circle cx="706.8" cy="285.1" r="4.25"/><circle cx="715.6" cy="257.7" r="4.25"/><circle cx="661.9" cy="284.0" r="4.25"/><circle cx="668.5" cy="288.9" r="4.25"/><circle cx="674.5" cy="287.8" r="4.25"/><circle cx="658.6" cy="291.1" r="4.25"/><circle cx="649.9" cy="290.0" r="4.25"/><circle cx="632.9" cy="290.0" r="4.25"/><circle cx="623.6" cy="290.0" r="4.25"/><circle cx="614.9" cy="293.3" r="4.25"/><circle cx="594.6" cy="292.2" r="4.25"/><circle cx="607.7" cy="293.9" r="4.25"/><circle cx="578.2" cy="298.8" r="4.25"/><circle cx="585.3" cy="301.5" r="4.25"/><circle cx="600.6" cy="299.9" r="4.25"/><circle cx="609.9" cy="300.4" r="4.25"/><circle cx="642.8" cy="299.9" r="4.25"/><circle cx="657.0" cy="304.8" r="4.25"/><circle cx="679.4" cy="299.9" r="4.25"/><circle cx="681.1" cy="306.4" r="4.25"/><circle cx="672.3" cy="309.7" r="4.25"/><circle cx="657.0" cy="312.5" r="4.25"/><circle cx="651.5" cy="315.2" r="4.25"/><circle cx="672.3" cy="317.4" r="4.25"/><circle cx="686.6" cy="287.8" r="4.25"/><circle cx="692.0" cy="292.8" r="4.25"/><circle cx="694.8" cy="287.8" r="4.25"/><circle cx="703.0" cy="295.0" r="4.25"/><circle cx="699.1" cy="305.4" r="4.25"/><circle cx="709.5" cy="301.5" r="4.25"/><circle cx="714.5" cy="294.4" r="4.25"/><circle cx="688.7" cy="310.8" r="4.25"/><circle cx="694.8" cy="311.4" r="4.25"/><circle cx="701.9" cy="316.3" r="4.25"/><circle cx="699.7" cy="321.2" r="4.25"/><circle cx="715.6" cy="304.3" r="4.25"/><circle cx="585.3" cy="311.4" r="4.25"/><circle cx="596.2" cy="315.2" r="4.25"/><circle cx="578.2" cy="316.3" r="4.25"/><circle cx="616.0" cy="309.2" r="4.25"/><circle cx="626.9" cy="307.5" r="4.25"/><circle cx="613.8" cy="318.5" r="4.25"/><circle cx="609.9" cy="314.7" r="4.25"/><circle cx="618.1" cy="325.6" r="4.25"/><circle cx="638.2" cy="317.9" r="4.25"/><circle cx="643.1" cy="326.1" r="4.25"/><circle cx="635.4" cy="331.1" r="4.25"/><circle cx="624.2" cy="334.0" r="4.25"/><circle cx="634.0" cy="311.9" r="4.25"/><circle cx="611.6" cy="344.2" r="4.25"/><circle cx="590.2" cy="307.5" r="4.25"/><circle cx="602.3" cy="307.5" r="4.25"/><circle cx="622.0" cy="301.0" r="4.25"/><circle cx="630.7" cy="301.0" r="4.25"/><circle cx="637.3" cy="296.6" r="4.25"/><circle cx="648.2" cy="301.0" r="4.25"/><circle cx="643.9" cy="306.4" r="4.25"/><circle cx="663.6" cy="298.8" r="4.25"/><circle cx="666.8" cy="304.3" r="4.25"/><circle cx="674.5" cy="295.5" r="4.25"/><circle cx="683.3" cy="296.6" r="4.25"/><circle cx="689.8" cy="298.8" r="4.25"/><circle cx="652.6" cy="282.4" r="4.25"/><circle cx="645.0" cy="285.6" r="4.25"/><circle cx="637.3" cy="286.7" r="4.25"/><circle cx="624.2" cy="283.5" r="4.25"/><circle cx="606.6" cy="286.7" r="4.25"/><circle cx="586.9" cy="292.2" r="4.25"/><circle cx="603.4" cy="278.0" r="4.25"/><circle cx="607.7" cy="273.6" r="4.25"/><circle cx="646.1" cy="276.9" r="4.25"/><circle cx="654.8" cy="284.6" r="4.25"/>
</g>
<g stroke="#000" stroke-width="1.0" fill-opacity="0.8" stroke-opacity="1">
<rect x="955.5" y="198.68" width="1.09" height="4.2" fill="#1f6fdb"/>
<rect x="955.5" y="204.57" width="3.27" height="4.2" fill="#1f6fdb"/>
<rect x="955.5" y="210.46" width="5.45" height="4.2" fill="#1f6fdb"/>
<rect x="955.5" y="216.35" width="5.45" height="4.2" fill="#1f6fdb"/>
<rect x="955.5" y="222.25" width="8.72" height="4.2" fill="#1f6fdb"/>
<rect x="955.5" y="228.14" width="16.35" height="4.2" fill="#1f6fdb"/>
<rect x="955.5" y="234.03" width="16.35" height="4.2" fill="#1f6fdb"/>
<rect x="955.5" y="239.92" width="15.26" height="4.2" fill="#1f6fdb"/>
<rect x="955.5" y="245.81" width="33.79" height="4.2" fill="#1f6fdb"/>
<rect x="955.5" y="251.71" width="35.97" height="4.2" fill="#1f6fdb"/>
<rect x="955.5" y="257.60" width="37.06" height="4.2" fill="#1f6fdb"/>
<rect x="955.5" y="263.49" width="45.78" height="4.2" fill="#1f6fdb"/>
<rect x="955.5" y="269.38" width="63.22" height="4.2" fill="#1f6fdb"/>
<rect x="955.5" y="275.27" width="67.58" height="4.2" fill="#1f6fdb"/>
<rect x="955.5" y="281.17" width="83.93" height="4.2" fill="#1f6fdb"/>
<rect x="955.5" y="287.06" width="74.12" height="4.2" fill="#1f6fdb"/>
<rect x="955.5" y="292.95" width="78.48" height="4.2" fill="#1f6fdb"/>
<rect x="955.5" y="298.84" width="85.02" height="4.2" fill="#1f6fdb"/>
<rect x="955.5" y="304.73" width="81.75" height="4.2" fill="#1f6fdb"/>
<rect x="955.5" y="310.63" width="59.95" height="4.2" fill="#1f6fdb"/>
<rect x="955.5" y="316.52" width="73.03" height="4.2" fill="#1f6fdb"/>
<rect x="955.5" y="322.41" width="47.96" height="4.2" fill="#1f6fdb"/>
<rect x="955.5" y="328.30" width="40.33" height="4.2" fill="#1f6fdb"/>
<rect x="955.5" y="334.19" width="45.78" height="4.2" fill="#1f6fdb"/>
<rect x="955.5" y="340.09" width="35.97" height="4.2" fill="#1f6fdb"/>
<rect x="955.5" y="345.98" width="33.79" height="4.2" fill="#1f6fdb"/>
<rect x="955.5" y="351.87" width="15.26" height="4.2" fill="#1f6fdb"/>
<rect x="955.5" y="357.76" width="26.16" height="4.2" fill="#1f6fdb"/>
<rect x="955.5" y="363.65" width="14.17" height="4.2" fill="#1f6fdb"/>
<rect x="955.5" y="369.55" width="7.63" height="4.2" fill="#1f6fdb"/>
<rect x="955.5" y="375.44" width="9.81" height="4.2" fill="#1f6fdb"/>
<rect x="955.5" y="381.33" width="3.27" height="4.2" fill="#1f6fdb"/>
<rect x="955.5" y="387.22" width="2.18" height="4.2" fill="#1f6fdb"/>
<rect x="955.5" y="393.11" width="1.09" height="4.2" fill="#1f6fdb"/>
<rect x="955.5" y="399.01" width="2.18" height="4.2" fill="#1f6fdb"/>
<rect x="955.5" y="198.68" width="2.18" height="4.2" fill="#ef4444"/>
<rect x="955.5" y="245.81" width="2.18" height="4.2" fill="#ef4444"/>
<rect x="955.5" y="251.71" width="3.27" height="4.2" fill="#ef4444"/>
<rect x="955.5" y="257.60" width="4.36" height="4.2" fill="#ef4444"/>
<rect x="955.5" y="263.49" width="8.72" height="4.2" fill="#ef4444"/>
<rect x="955.5" y="269.38" width="25.07" height="4.2" fill="#ef4444"/>
<rect x="955.5" y="275.27" width="53.41" height="4.2" fill="#ef4444"/>
<rect x="955.5" y="281.17" width="105.73" height="4.2" fill="#ef4444"/>
<rect x="955.5" y="287.06" width="198.38" height="4.2" fill="#ef4444"/>
<rect x="955.5" y="292.95" width="272.50" height="4.2" fill="#ef4444"/>
<rect x="955.5" y="298.84" width="248.52" height="4.2" fill="#ef4444"/>
<rect x="955.5" y="304.73" width="136.25" height="4.2" fill="#ef4444"/>
<rect x="955.5" y="310.63" width="56.68" height="4.2" fill="#ef4444"/>
<rect x="955.5" y="316.52" width="29.43" height="4.2" fill="#ef4444"/>
<rect x="955.5" y="322.41" width="10.90" height="4.2" fill="#ef4444"/>
<rect x="955.5" y="328.30" width="9.81" height="4.2" fill="#ef4444"/>
<rect x="955.5" y="334.19" width="3.27" height="4.2" fill="#ef4444"/>
<rect x="955.5" y="357.76" width="1.09" height="4.2" fill="#ef4444"/>
</g>
<g stroke="#000" stroke-width="0.8" fill="#7b7b7b">
<rect x="148.54" y="548.0" width="13.0" height="3.46"/>
<rect x="164.36" y="548.0" width="13.0" height="3.46"/>
<rect x="196.00" y="548.0" width="13.0" height="6.92"/>
<rect x="211.82" y="548.0" width="13.0" height="3.46"/>
<rect x="227.64" y="548.0" width="13.0" height="6.92"/>
<rect x="243.46" y="548.0" width="13.0" height="20.75"/>
<rect x="259.28" y="548.0" width="13.0" height="10.37"/>
<rect x="275.10" y="548.0" width="13.0" height="10.37"/>
<rect x="290.92" y="548.0" width="13.0" height="17.29"/>
<rect x="306.74" y="548.0" width="13.0" height="58.79"/>
<rect x="322.56" y="548.0" width="13.0" height="58.79"/>
<rect x="338.38" y="548.0" width="13.0" height="55.33"/>
<rect x="354.20" y="548.0" width="13.0" height="72.62"/>
<rect x="370.02" y="548.0" width="13.0" height="76.08"/>
<rect x="385.84" y="548.0" width="13.0" height="107.20"/>
<rect x="401.66" y="548.0" width="13.0" height="134.86"/>
<rect x="417.48" y="548.0" width="13.0" height="165.98"/>
<rect x="433.30" y="548.0" width="13.0" height="148.69"/>
<rect x="449.12" y="548.0" width="13.0" height="183.27"/>
<rect x="464.94" y="548.0" width="13.0" height="200.56"/>
<rect x="480.76" y="548.0" width="13.0" height="217.85"/>
<rect x="496.58" y="548.0" width="13.0" height="179.82"/>
<rect x="512.40" y="548.0" width="13.0" height="231.69"/>
<rect x="528.22" y="548.0" width="13.0" height="186.73"/>
<rect x="544.04" y="548.0" width="13.0" height="221.31"/>
<rect x="559.86" y="548.0" width="13.0" height="152.15"/>
<rect x="575.68" y="548.0" width="13.0" height="245.52"/>
<rect x="591.50" y="548.0" width="13.0" height="141.78"/>
<rect x="607.32" y="548.0" width="13.0" height="183.27"/>
<rect x="623.14" y="548.0" width="13.0" height="114.11"/>
<rect x="638.96" y="548.0" width="13.0" height="117.57"/>
<rect x="654.78" y="548.0" width="13.0" height="103.74"/>
<rect x="670.60" y="548.0" width="13.0" height="65.70"/>
<rect x="686.42" y="548.0" width="13.0" height="65.70"/>
<rect x="702.24" y="548.0" width="13.0" height="34.58"/>
<rect x="718.06" y="548.0" width="13.0" height="65.70"/>
<rect x="733.88" y="548.0" width="13.0" height="10.37"/>
<rect x="749.70" y="548.0" width="13.0" height="27.66"/>
<rect x="765.52" y="548.0" width="13.0" height="20.75"/>
<rect x="781.34" y="548.0" width="13.0" height="10.37"/>
<rect x="797.16" y="548.0" width="13.0" height="10.37"/>
<rect x="812.98" y="548.0" width="13.0" height="10.37"/>
<rect x="828.80" y="548.0" width="13.0" height="10.37"/>
<rect x="844.62" y="548.0" width="13.0" height="3.46"/>
<rect x="860.44" y="548.0" width="13.0" height="3.46"/>
</g>
<path d="M163.15 73.60v4.70M163.15 516.00v-4.70M163.15 548.00v4.70M163.15 807.60v-4.70M202.70 73.60v9.70M202.70 516.00v-9.70M202.70 548.00v9.70M202.70 807.60v-9.70M242.25 73.60v4.70M242.25 516.00v-4.70M242.25 548.00v4.70M242.25 807.60v-4.70M281.80 73.60v4.70M281.80 516.00v-4.70M281.80 548.00v4.70M281.80 807.60v-4.70M321.35 73.60v4.70M321.35 516.00v-4.70M321.35 548.00v4.70M321.35 807.60v-4.70M360.90 73.60v9.70M360.90 516.00v-9.70M360.90 548.00v9.70M360.90 807.60v-9.70M400.45 73.60v4.70M400.45 516.00v-4.70M400.45 548.00v4.70M400.45 807.60v-4.70M440.00 73.60v4.70M440.00 516.00v-4.70M440.00 548.00v4.70M440.00 807.60v-4.70M479.55 73.60v4.70M479.55 516.00v-4.70M479.55 548.00v4.70M479.55 807.60v-4.70M519.10 73.60v9.70M519.10 516.00v-9.70M519.10 548.00v9.70M519.10 807.60v-9.70M558.65 73.60v4.70M558.65 516.00v-4.70M558.65 548.00v4.70M558.65 807.60v-4.70M598.20 73.60v4.70M598.20 516.00v-4.70M598.20 548.00v4.70M598.20 807.60v-4.70M637.75 73.60v4.70M637.75 516.00v-4.70M637.75 548.00v4.70M637.75 807.60v-4.70M677.30 73.60v9.70M677.30 516.00v-9.70M677.30 548.00v9.70M677.30 807.60v-9.70M716.85 73.60v4.70M716.85 516.00v-4.70M716.85 548.00v4.70M716.85 807.60v-4.70M756.40 73.60v4.70M756.40 516.00v-4.70M756.40 548.00v4.70M756.40 807.60v-4.70M795.95 73.60v4.70M795.95 516.00v-4.70M795.95 548.00v4.70M795.95 807.60v-4.70M835.50 73.60v9.70M835.50 516.00v-9.70M835.50 548.00v9.70M835.50 807.60v-9.70M875.05 73.60v4.70M875.05 516.00v-4.70M875.05 548.00v4.70M875.05 807.60v-4.70M123.60 500.82h4.70M914.40 500.82h-4.70M955.50 500.82h4.70M1283.30 500.82h-4.70M123.60 486.09h4.70M914.40 486.09h-4.70M955.50 486.09h4.70M1283.30 486.09h-4.70M123.60 471.36h4.70M914.40 471.36h-4.70M955.50 471.36h4.70M1283.30 471.36h-4.70M123.60 456.63h4.70M914.40 456.63h-4.70M955.50 456.63h4.70M1283.30 456.63h-4.70M123.60 441.90h9.70M914.40 441.90h-9.70M955.50 441.90h9.70M1283.30 441.90h-9.70M123.60 427.17h4.70M914.40 427.17h-4.70M955.50 427.17h4.70M1283.30 427.17h-4.70M123.60 412.44h4.70M914.40 412.44h-4.70M955.50 412.44h4.70M1283.30 412.44h-4.70M123.60 397.71h4.70M914.40 397.71h-4.70M955.50 397.71h4.70M1283.30 397.71h-4.70M123.60 382.98h4.70M914.40 382.98h-4.70M955.50 382.98h4.70M1283.30 382.98h-4.70M123.60 368.25h9.70M914.40 368.25h-9.70M955.50 368.25h9.70M1283.30 368.25h-9.70M123.60 353.52h4.70M914.40 353.52h-4.70M955.50 353.52h4.70M1283.30 353.52h-4.70M123.60 338.79h4.70M914.40 338.79h-4.70M955.50 338.79h4.70M1283.30 338.79h-4.70M123.60 324.06h4.70M914.40 324.06h-4.70M955.50 324.06h4.70M1283.30 324.06h-4.70M123.60 309.33h4.70M914.40 309.33h-4.70M955.50 309.33h4.70M1283.30 309.33h-4.70M123.60 294.60h9.70M914.40 294.60h-9.70M955.50 294.60h9.70M1283.30 294.60h-9.70M123.60 279.87h4.70M914.40 279.87h-4.70M955.50 279.87h4.70M1283.30 279.87h-4.70M123.60 265.14h4.70M914.40 265.14h-4.70M955.50 265.14h4.70M1283.30 265.14h-4.70M123.60 250.41h4.70M914.40 250.41h-4.70M955.50 250.41h4.70M1283.30 250.41h-4.70M123.60 235.68h4.70M914.40 235.68h-4.70M955.50 235.68h4.70M1283.30 235.68h-4.70M123.60 220.95h9.70M914.40 220.95h-9.70M955.50 220.95h9.70M1283.30 220.95h-9.70M123.60 206.22h4.70M914.40 206.22h-4.70M955.50 206.22h4.70M1283.30 206.22h-4.70M123.60 191.49h4.70M914.40 191.49h-4.70M955.50 191.49h4.70M1283.30 191.49h-4.70M123.60 176.76h4.70M914.40 176.76h-4.70M955.50 176.76h4.70M1283.30 176.76h-4.70M123.60 162.03h4.70M914.40 162.03h-4.70M955.50 162.03h4.70M1283.30 162.03h-4.70M123.60 147.30h9.70M914.40 147.30h-9.70M955.50 147.30h9.70M1283.30 147.30h-9.70M123.60 132.57h4.70M914.40 132.57h-4.70M955.50 132.57h4.70M1283.30 132.57h-4.70M123.60 117.84h4.70M914.40 117.84h-4.70M955.50 117.84h4.70M1283.30 117.84h-4.70M123.60 103.11h4.70M914.40 103.11h-4.70M955.50 103.11h4.70M1283.30 103.11h-4.70M123.60 88.38h4.70M914.40 88.38h-4.70M955.50 88.38h4.70M1283.30 88.38h-4.70M982.75 73.95v4.70M982.75 516.35v-4.70M1010.00 73.95v4.70M1010.00 516.35v-4.70M1037.25 73.95v4.70M1037.25 516.35v-4.70M1064.50 73.95v9.70M1064.50 516.35v-9.70M1091.75 73.95v4.70M1091.75 516.35v-4.70M1119.00 73.95v4.70M1119.00 516.35v-4.70M1146.25 73.95v4.70M1146.25 516.35v-4.70M1173.50 73.95v9.70M1173.50 516.35v-9.70M1200.75 73.95v4.70M1200.75 516.35v-4.70M1228.00 73.95v4.70M1228.00 516.35v-4.70M1255.25 73.95v4.70M1255.25 516.35v-4.70M123.60 565.29h4.70M914.40 565.29h-4.70M123.60 582.58h4.70M914.40 582.58h-4.70M123.60 599.87h4.70M914.40 599.87h-4.70M123.60 617.16h4.70M914.40 617.16h-4.70M123.60 634.45h9.70M914.40 634.45h-9.70M123.60 651.74h4.70M914.40 651.74h-4.70M123.60 669.03h4.70M914.40 669.03h-4.70M123.60 686.32h4.70M914.40 686.32h-4.70M123.60 703.61h4.70M914.40 703.61h-4.70M123.60 720.90h9.70M914.40 720.90h-9.70M123.60 738.19h4.70M914.40 738.19h-4.70M123.60 755.48h4.70M914.40 755.48h-4.70M123.60 772.77h4.70M914.40 772.77h-4.70M123.60 790.06h4.70M914.40 790.06h-4.70" stroke="#000" stroke-width="2.2" fill="none"/>
<rect x="123.6" y="73.6" width="790.80" height="442.40" fill="none" stroke="#000" stroke-width="2.5"/>
<rect x="955.5" y="73.95" width="327.80" height="442.40" fill="none" stroke="#000" stroke-width="2.5"/>
<rect x="123.6" y="548.0" width="790.80" height="259.60" fill="none" stroke="#000" stroke-width="2.5"/>
<g opacity="0.999">
<text transform="matrix(0.09904 0 0 0.10429 185.21 67.60)" font-size="200" fill="#000" stroke="#000" stroke-width="3.93" stroke-linejoin="round">−2</text>
<text transform="matrix(0.09904 0 0 0.10580 343.41 67.60)" font-size="200" fill="#000" stroke="#000" stroke-width="3.91" stroke-linejoin="round">−1</text>
<text transform="matrix(0.10842 0 0 0.10282 513.53 67.39)" font-size="200" fill="#000" stroke="#000" stroke-width="3.79" stroke-linejoin="round">0</text>
<text transform="matrix(0.09884 0 0 0.10580 671.12 67.60)" font-size="200" fill="#000" stroke="#000" stroke-width="3.91" stroke-linejoin="round">1</text>
<text transform="matrix(0.10110 0 0 0.10429 829.89 67.60)" font-size="200" fill="#000" stroke="#000" stroke-width="3.90" stroke-linejoin="round">2</text>
<text transform="matrix(0.10353 0 0 0.10000 86.35 80.80)" font-size="200" fill="#000" stroke="#000" stroke-width="3.93" stroke-linejoin="round">1.5</text>
<text transform="matrix(0.10353 0 0 0.09859 86.35 155.00)" font-size="200" fill="#000" stroke="#000" stroke-width="3.96" stroke-linejoin="round">1.0</text>
<text transform="matrix(0.10611 0 0 0.09859 85.65 227.60)" font-size="200" fill="#000" stroke="#000" stroke-width="3.91" stroke-linejoin="round">0.5</text>
<text transform="matrix(0.10611 0 0 0.09859 85.65 301.20)" font-size="200" fill="#000" stroke="#000" stroke-width="3.91" stroke-linejoin="round">0.0</text>
<text transform="matrix(0.10106 0 0 0.09859 75.29 375.30)" font-size="200" fill="#000" stroke="#000" stroke-width="4.01" stroke-linejoin="round">−0.5</text>
<text transform="matrix(0.10080 0 0 0.09859 75.29 449.10)" font-size="200" fill="#000" stroke="#000" stroke-width="4.01" stroke-linejoin="round">−1.0</text>
<text transform="matrix(0.10319 0 0 0.10000 74.47 522.80)" font-size="200" fill="#000" stroke="#000" stroke-width="3.94" stroke-linejoin="round">−1.5</text>
<text transform="matrix(0.10421 0 0 0.10282 950.07 67.39)" font-size="200" fill="#000" stroke="#000" stroke-width="3.86" stroke-linejoin="round">0</text>
<text transform="matrix(0.10547 0 0 0.10282 1046.82 67.39)" font-size="200" fill="#000" stroke="#000" stroke-width="3.84" stroke-linejoin="round">100</text>
<text transform="matrix(0.10443 0 0 0.10282 1156.16 67.39)" font-size="200" fill="#000" stroke="#000" stroke-width="3.86" stroke-linejoin="round">200</text>
<text transform="matrix(0.10314 0 0 0.10282 1265.77 67.39)" font-size="200" fill="#000" stroke="#000" stroke-width="3.88" stroke-linejoin="round">300</text>
<text transform="matrix(0.15094 0 0 0.14504 1081.14 35.71)" font-size="200" fill="#000">count</text>
<text transform="matrix(0.10632 0 0 0.09859 103.15 555.00)" font-size="200" fill="#000" stroke="#000" stroke-width="3.90" stroke-linejoin="round">0</text>
<text transform="matrix(0.10343 0 0 0.09859 91.97 641.45)" font-size="200" fill="#000" stroke="#000" stroke-width="3.96" stroke-linejoin="round">25</text>
<text transform="matrix(0.10193 0 0 0.09859 92.18 727.90)" font-size="200" fill="#000" stroke="#000" stroke-width="3.99" stroke-linejoin="round">50</text>
<text transform="matrix(0.10343 0 0 0.10000 91.97 814.35)" font-size="200" fill="#000" stroke="#000" stroke-width="3.93" stroke-linejoin="round">75</text>
<text transform="matrix(0 -0.14781 0.14351 0 76.21 722.73)" font-size="200" fill="#000">count</text>
<text transform="matrix(0.14931 0 0 0.14332 313.06 34.78)" font-size="200" fill="#000">imprinted phase deviation</text>
<g transform="translate(671.2 27.6)"><ellipse cx="0" cy="0" rx="8.15" ry="6.75" transform="rotate(-14)" fill="none" stroke="#000" stroke-width="2.0"/><line x1="2.75" y1="-14.2" x2="-2.75" y2="13.0" stroke="#000" stroke-width="2.1"/></g>
<ellipse cx="687.85" cy="32.35" rx="4.25" ry="5.45" fill="none" stroke="#000" stroke-width="1.9"/>
<line x1="695.5" y1="39.1" x2="704.8" y2="12.5" stroke="#000" stroke-width="2.1"/>
<text transform="matrix(0.13223 0 0 0.13796 706.14 34.92)" font-size="200" fill="#000">π</text>
<text transform="matrix(0 -0.14459 0.14439 0 69.54 406.68)" font-size="200" fill="#000">phase error</text>
<text transform="matrix(0 -0.12049 0.14493 0 70.20 250.42)" font-size="200" fill="#000">Δ</text>
<g transform="translate(62.6 222.6) rotate(-90)"><ellipse cx="0" cy="0" rx="8.15" ry="6.75" transform="rotate(-14)" fill="none" stroke="#000" stroke-width="2.0"/><line x1="2.75" y1="-14.2" x2="-2.75" y2="13.0" stroke="#000" stroke-width="2.1"/></g>
<line x1="47.3" y1="201.4" x2="73.5" y2="210.8" stroke="#000" stroke-width="2.1"/>
<text transform="matrix(0 -0.12562 0.13981 0 70.02 199.20)" font-size="200" fill="#000">π</text>
<rect x="0" y="0" width="41" height="41" fill="#1b6edc"/>
<rect x="954.4" y="0" width="41.3" height="41" fill="#1b6edc"/>
<rect x="0" y="556.4" width="41" height="41.5" fill="#1b6edc"/>
<text transform="matrix(0.16471 0 0 0.17182 10.62 32.86)" font-size="200" fill="#fff">a</text>
<text transform="matrix(0.17111 0 0 0.17143 964.98 32.66)" font-size="200" fill="#fff">b</text>
<text transform="matrix(0.18023 0 0 0.17182 11.18 586.16)" font-size="200" fill="#fff">c</text>
</g>
</svg>
</body></html>
